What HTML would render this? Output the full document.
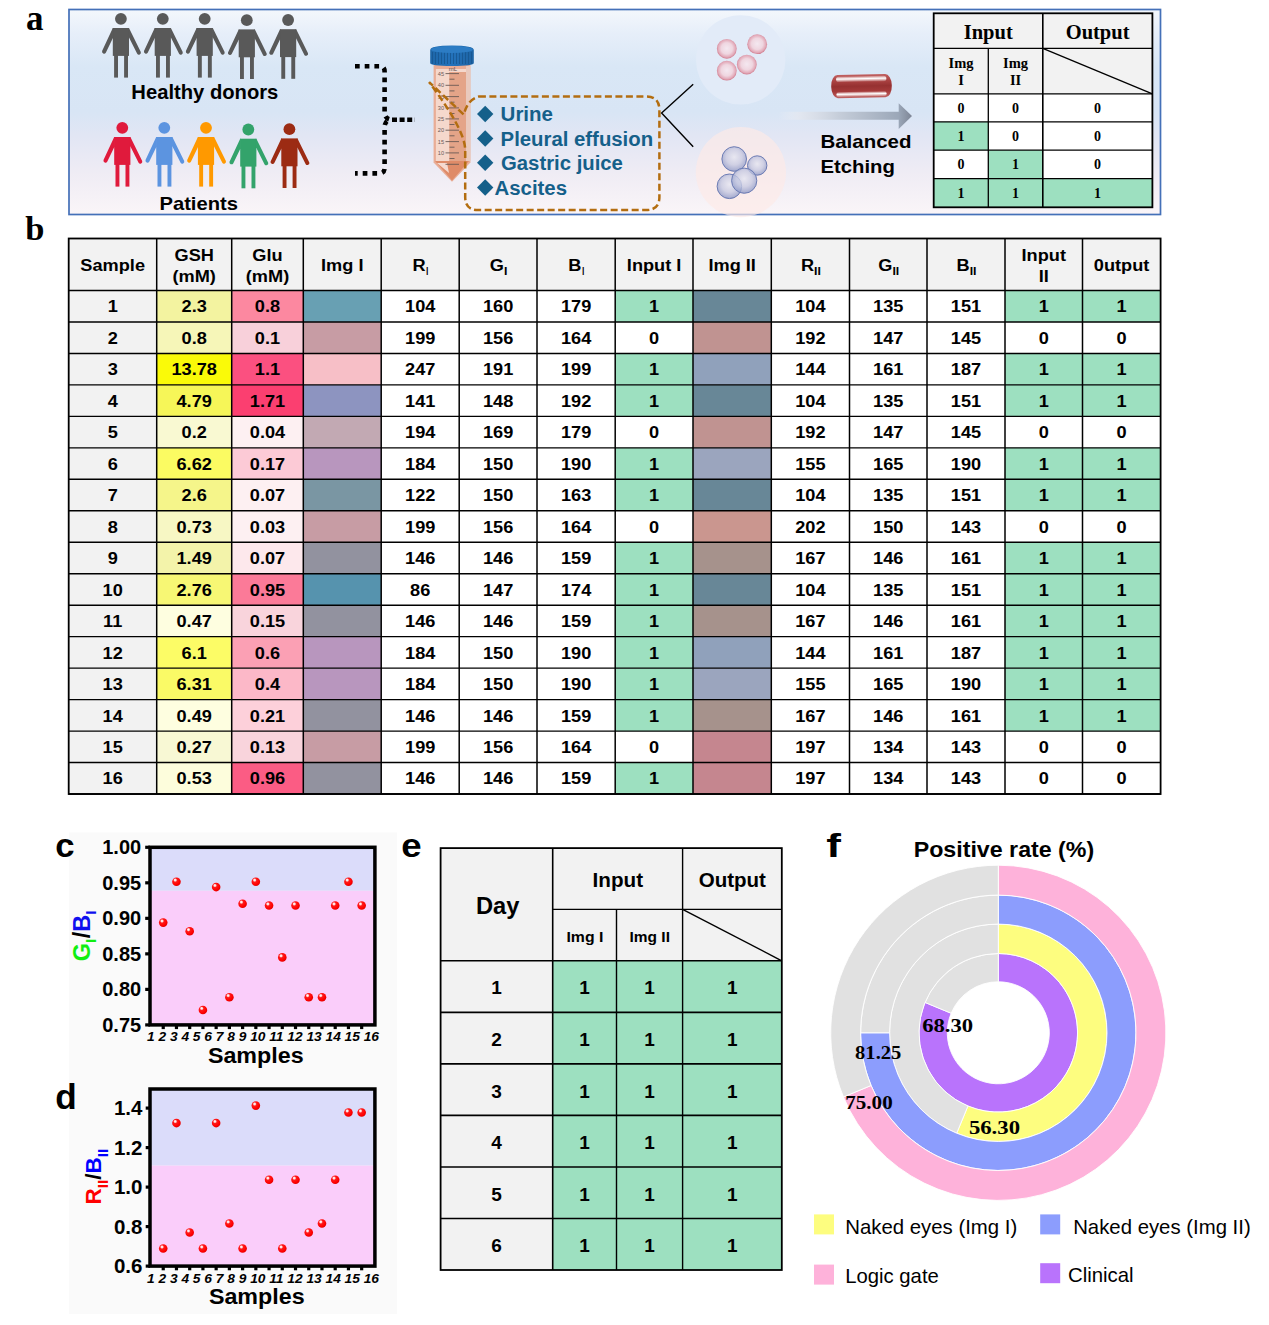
<!DOCTYPE html><html><head><meta charset="utf-8"><style>html,body{margin:0;padding:0;background:#fff;}svg{display:block;}</style></head><body>
<svg width="1269" height="1325" viewBox="0 0 1269 1325">
<rect width="1269" height="1325" fill="#fff"/>
<text x="26.00" y="29.50" font-size="35" text-anchor="start" font-weight="bold" font-family='"Liberation Serif", serif' fill="#000" >a</text>
<text x="25.20" y="240.00" font-size="34.5" text-anchor="start" font-weight="bold" font-family='"Liberation Serif", serif' fill="#000" >b</text>
<defs>
<linearGradient id="bgA" x1="0" y1="0" x2="0" y2="1">
<stop offset="0" stop-color="#f3f7fc"/>
<stop offset="0.12" stop-color="#e6eef9"/>
<stop offset="0.28" stop-color="#d9e7f6"/>
<stop offset="0.50" stop-color="#d8e5f5"/>
<stop offset="0.62" stop-color="#e2e6f4"/>
<stop offset="0.80" stop-color="#efecf4"/>
<stop offset="1" stop-color="#faf5f8"/>
</linearGradient>
<linearGradient id="arrowG" x1="778" y1="0" x2="912" y2="0" gradientUnits="userSpaceOnUse">
<stop offset="0" stop-color="#eef0f6" stop-opacity="0"/>
<stop offset="0.15" stop-color="#e6e8ef" stop-opacity="0.7"/>
<stop offset="0.45" stop-color="#c6ceda"/>
<stop offset="0.9" stop-color="#9ba7b8"/>
<stop offset="1" stop-color="#7d8595"/>
</linearGradient>
<linearGradient id="rodG" x1="0" y1="0" x2="0" y2="1">
<stop offset="0" stop-color="#c06060"/>
<stop offset="0.3" stop-color="#a84040"/>
<stop offset="0.5" stop-color="#963131"/>
<stop offset="0.72" stop-color="#a43a3a"/>
<stop offset="1" stop-color="#c06262"/>
</linearGradient>
<linearGradient id="hlG" x1="0" y1="0" x2="0" y2="1">
<stop offset="0" stop-color="#fff" stop-opacity="0.25"/>
<stop offset="0.45" stop-color="#fff" stop-opacity="1"/>
<stop offset="1" stop-color="#fff" stop-opacity="0.15"/>
</linearGradient>
<radialGradient id="pinkP" cx="0.5" cy="0.48" r="0.52">
<stop offset="0" stop-color="#f4e8f0"/>
<stop offset="0.55" stop-color="#efd6e0"/>
<stop offset="0.85" stop-color="#e2a9b8"/>
<stop offset="1" stop-color="#cf7a8c"/>
</radialGradient>
<radialGradient id="blueP" cx="0.5" cy="0.42" r="0.58">
<stop offset="0" stop-color="#e4e6f2"/>
<stop offset="0.55" stop-color="#c5c9e2"/>
<stop offset="0.9" stop-color="#98a2cc"/>
<stop offset="1" stop-color="#7c88bc"/>
</radialGradient>
<linearGradient id="capG" x1="0" y1="0" x2="1" y2="0">
<stop offset="0" stop-color="#1d66a8"/>
<stop offset="0.5" stop-color="#2372bb"/>
<stop offset="1" stop-color="#1d63a3"/>
</linearGradient>
</defs>
<rect x="69" y="9.5" width="1091.5" height="205" fill="url(#bgA)" stroke="#4470b8" stroke-width="1.7"/>
<g fill="#595959" transform="translate(120.90,18.80)"><circle cx="0" cy="0" r="5.9"/><rect x="-8.1" y="9.2" width="16.2" height="27.9"/><rect x="-6.8" y="36" width="3.9" height="22.8"/><rect x="3.2" y="36" width="3.9" height="22.8"/><path d="M-7.4,9.2 L-8.1,9.2 L-18.8,32.3 A2.05,2.05 0 0 0 -15.1,33.9 L-8.1,19.5 L-7.4,19.5 Z"/><path d="M7.4,9.2 L8.1,9.2 L19.9,33.2 A2.05,2.05 0 0 1 16.3,35.0 L8.1,18.6 L7.4,18.6 Z"/></g>
<g fill="#595959" transform="translate(162.80,18.80)"><circle cx="0" cy="0" r="5.9"/><rect x="-8.1" y="9.2" width="16.2" height="27.9"/><rect x="-6.8" y="36" width="3.9" height="22.8"/><rect x="3.2" y="36" width="3.9" height="22.8"/><path d="M-7.4,9.2 L-8.1,9.2 L-18.8,32.3 A2.05,2.05 0 0 0 -15.1,33.9 L-8.1,19.5 L-7.4,19.5 Z"/><path d="M7.4,9.2 L8.1,9.2 L19.9,33.2 A2.05,2.05 0 0 1 16.3,35.0 L8.1,18.6 L7.4,18.6 Z"/></g>
<g fill="#595959" transform="translate(204.70,18.80)"><circle cx="0" cy="0" r="5.9"/><rect x="-8.1" y="9.2" width="16.2" height="27.9"/><rect x="-6.8" y="36" width="3.9" height="22.8"/><rect x="3.2" y="36" width="3.9" height="22.8"/><path d="M-7.4,9.2 L-8.1,9.2 L-18.8,32.3 A2.05,2.05 0 0 0 -15.1,33.9 L-8.1,19.5 L-7.4,19.5 Z"/><path d="M7.4,9.2 L8.1,9.2 L19.9,33.2 A2.05,2.05 0 0 1 16.3,35.0 L8.1,18.6 L7.4,18.6 Z"/></g>
<g fill="#595959" transform="translate(246.80,20.20)"><circle cx="0" cy="0" r="5.9"/><rect x="-8.1" y="9.2" width="16.2" height="27.9"/><rect x="-6.8" y="36" width="3.9" height="22.8"/><rect x="3.2" y="36" width="3.9" height="22.8"/><path d="M-7.4,9.2 L-8.1,9.2 L-18.8,32.3 A2.05,2.05 0 0 0 -15.1,33.9 L-8.1,19.5 L-7.4,19.5 Z"/><path d="M7.4,9.2 L8.1,9.2 L19.9,33.2 A2.05,2.05 0 0 1 16.3,35.0 L8.1,18.6 L7.4,18.6 Z"/></g>
<g fill="#595959" transform="translate(288.10,20.00)"><circle cx="0" cy="0" r="5.9"/><rect x="-8.1" y="9.2" width="16.2" height="27.9"/><rect x="-6.8" y="36" width="3.9" height="22.8"/><rect x="3.2" y="36" width="3.9" height="22.8"/><path d="M-7.4,9.2 L-8.1,9.2 L-18.8,32.3 A2.05,2.05 0 0 0 -15.1,33.9 L-8.1,19.5 L-7.4,19.5 Z"/><path d="M7.4,9.2 L8.1,9.2 L19.9,33.2 A2.05,2.05 0 0 1 16.3,35.0 L8.1,18.6 L7.4,18.6 Z"/></g>
<g fill="#e01a3c" transform="translate(122.30,127.80)"><circle cx="0" cy="0" r="5.9"/><rect x="-8.1" y="9.2" width="16.2" height="27.9"/><rect x="-6.8" y="36" width="3.9" height="22.8"/><rect x="3.2" y="36" width="3.9" height="22.8"/><path d="M-7.4,9.2 L-8.1,9.2 L-18.8,32.3 A2.05,2.05 0 0 0 -15.1,33.9 L-8.1,19.5 L-7.4,19.5 Z"/><path d="M7.4,9.2 L8.1,9.2 L19.9,33.2 A2.05,2.05 0 0 1 16.3,35.0 L8.1,18.6 L7.4,18.6 Z"/></g>
<g fill="#5c94e0" transform="translate(164.30,127.80)"><circle cx="0" cy="0" r="5.9"/><rect x="-8.1" y="9.2" width="16.2" height="27.9"/><rect x="-6.8" y="36" width="3.9" height="22.8"/><rect x="3.2" y="36" width="3.9" height="22.8"/><path d="M-7.4,9.2 L-8.1,9.2 L-18.8,32.3 A2.05,2.05 0 0 0 -15.1,33.9 L-8.1,19.5 L-7.4,19.5 Z"/><path d="M7.4,9.2 L8.1,9.2 L19.9,33.2 A2.05,2.05 0 0 1 16.3,35.0 L8.1,18.6 L7.4,18.6 Z"/></g>
<g fill="#ff9900" transform="translate(206.00,127.80)"><circle cx="0" cy="0" r="5.9"/><rect x="-8.1" y="9.2" width="16.2" height="27.9"/><rect x="-6.8" y="36" width="3.9" height="22.8"/><rect x="3.2" y="36" width="3.9" height="22.8"/><path d="M-7.4,9.2 L-8.1,9.2 L-18.8,32.3 A2.05,2.05 0 0 0 -15.1,33.9 L-8.1,19.5 L-7.4,19.5 Z"/><path d="M7.4,9.2 L8.1,9.2 L19.9,33.2 A2.05,2.05 0 0 1 16.3,35.0 L8.1,18.6 L7.4,18.6 Z"/></g>
<g fill="#33a36b" transform="translate(248.30,129.50)"><circle cx="0" cy="0" r="5.9"/><rect x="-8.1" y="9.2" width="16.2" height="27.9"/><rect x="-6.8" y="36" width="3.9" height="22.8"/><rect x="3.2" y="36" width="3.9" height="22.8"/><path d="M-7.4,9.2 L-8.1,9.2 L-18.8,32.3 A2.05,2.05 0 0 0 -15.1,33.9 L-8.1,19.5 L-7.4,19.5 Z"/><path d="M7.4,9.2 L8.1,9.2 L19.9,33.2 A2.05,2.05 0 0 1 16.3,35.0 L8.1,18.6 L7.4,18.6 Z"/></g>
<g fill="#9c2b13" transform="translate(289.40,129.20)"><circle cx="0" cy="0" r="5.9"/><rect x="-8.1" y="9.2" width="16.2" height="27.9"/><rect x="-6.8" y="36" width="3.9" height="22.8"/><rect x="3.2" y="36" width="3.9" height="22.8"/><path d="M-7.4,9.2 L-8.1,9.2 L-18.8,32.3 A2.05,2.05 0 0 0 -15.1,33.9 L-8.1,19.5 L-7.4,19.5 Z"/><path d="M7.4,9.2 L8.1,9.2 L19.9,33.2 A2.05,2.05 0 0 1 16.3,35.0 L8.1,18.6 L7.4,18.6 Z"/></g>
<text x="131.34" y="98.90" font-size="19.3" text-anchor="start" font-weight="bold" font-family='"Liberation Sans", sans-serif' fill="#000"  textLength="147.03" lengthAdjust="spacingAndGlyphs">Healthy donors</text>
<text x="159.47" y="210.30" font-size="18.5" text-anchor="start" font-weight="bold" font-family='"Liberation Sans", sans-serif' fill="#000"  textLength="78.45" lengthAdjust="spacingAndGlyphs">Patients</text>
<path d="M355,66.2 H379.5 Q384.6,66.2 384.6,71.5 V112 Q384.6,118.5 390.5,119.6" fill="none" stroke="#000" stroke-width="4.6" stroke-dasharray="4.7 5"/>
<path d="M392,119.8 H415" fill="none" stroke="#000" stroke-width="4.6" stroke-dasharray="5 2.6"/>
<path d="M355,173.4 H379 Q384.6,173.4 384.6,168 V127 Q384.6,121 390.5,119.6" fill="none" stroke="#000" stroke-width="4.6" stroke-dasharray="4.7 5" stroke-dashoffset="2"/>
<path d="M433.6,65 H470.4 V162.5 L452,181.8 L433.6,162.5 Z" fill="#e9ad96"/>
<path d="M466,66 H470.4 V161 H466 Z" fill="#e9c9bd"/>
<path d="M435.9,69 H466 V161 H435.9 Z" fill="#f5d8cc"/>
<path d="M449.2,72 H466 V161 H449.2 Z" fill="#e4a488"/>
<path d="M435,161 H469 L452,180.5 Z" fill="#df8b68"/>
<path d="M437,163 H447 L449,173 Z" fill="#f6dad0"/>
<line x1="445.5" y1="73.6" x2="459" y2="73.6" stroke="#6a5a55" stroke-width="0.9"/>
<line x1="449.5" y1="79.2" x2="454.5" y2="79.2" stroke="#6a5a55" stroke-width="0.9"/>
<line x1="445.5" y1="85.3" x2="459" y2="85.3" stroke="#6a5a55" stroke-width="0.9"/>
<line x1="449.5" y1="90.9" x2="454.5" y2="90.9" stroke="#6a5a55" stroke-width="0.9"/>
<line x1="445.5" y1="96.6" x2="459" y2="96.6" stroke="#6a5a55" stroke-width="0.9"/>
<line x1="449.5" y1="102.2" x2="454.5" y2="102.2" stroke="#6a5a55" stroke-width="0.9"/>
<line x1="445.5" y1="107.9" x2="459" y2="107.9" stroke="#6a5a55" stroke-width="0.9"/>
<line x1="449.5" y1="113.5" x2="454.5" y2="113.5" stroke="#6a5a55" stroke-width="0.9"/>
<line x1="445.5" y1="118.9" x2="459" y2="118.9" stroke="#6a5a55" stroke-width="0.9"/>
<line x1="449.5" y1="124.5" x2="454.5" y2="124.5" stroke="#6a5a55" stroke-width="0.9"/>
<line x1="445.5" y1="130.2" x2="459" y2="130.2" stroke="#6a5a55" stroke-width="0.9"/>
<line x1="449.5" y1="135.8" x2="454.5" y2="135.8" stroke="#6a5a55" stroke-width="0.9"/>
<line x1="445.5" y1="141.6" x2="459" y2="141.6" stroke="#6a5a55" stroke-width="0.9"/>
<line x1="449.5" y1="147.2" x2="454.5" y2="147.2" stroke="#6a5a55" stroke-width="0.9"/>
<line x1="445.5" y1="152.9" x2="459" y2="152.9" stroke="#6a5a55" stroke-width="0.9"/>
<line x1="449.5" y1="158.5" x2="454.5" y2="158.5" stroke="#6a5a55" stroke-width="0.9"/>
<line x1="445.5" y1="164.3" x2="459" y2="164.3" stroke="#6a5a55" stroke-width="0.9"/>
<text x="444" y="75.6" font-size="5.6" text-anchor="end" font-family='"Liberation Sans", sans-serif' fill="#6a5a58">45</text>
<text x="444" y="87.3" font-size="5.6" text-anchor="end" font-family='"Liberation Sans", sans-serif' fill="#6a5a58">40</text>
<text x="444" y="98.6" font-size="5.6" text-anchor="end" font-family='"Liberation Sans", sans-serif' fill="#6a5a58">35</text>
<text x="444" y="109.9" font-size="5.6" text-anchor="end" font-family='"Liberation Sans", sans-serif' fill="#6a5a58">30</text>
<text x="444" y="120.9" font-size="5.6" text-anchor="end" font-family='"Liberation Sans", sans-serif' fill="#6a5a58">25</text>
<text x="444" y="132.2" font-size="5.6" text-anchor="end" font-family='"Liberation Sans", sans-serif' fill="#6a5a58">20</text>
<text x="444" y="143.6" font-size="5.6" text-anchor="end" font-family='"Liberation Sans", sans-serif' fill="#6a5a58">15</text>
<text x="444" y="154.9" font-size="5.6" text-anchor="end" font-family='"Liberation Sans", sans-serif' fill="#6a5a58">10</text>
<text x="453" y="71" font-size="6" text-anchor="middle" font-family='"Liberation Sans", sans-serif' fill="#5a4a45">mL</text>
<path d="M430.2,50 Q430.2,45.5 452,45.5 Q473.8,45.5 473.8,50 V63 Q473.8,66 452,66 Q430.2,66 430.2,63 Z" fill="url(#capG)"/>
<line x1="432.5" y1="52" x2="432.5" y2="64" stroke="#17558f" stroke-width="0.8"/>
<line x1="435.5" y1="52" x2="435.5" y2="64" stroke="#17558f" stroke-width="0.8"/>
<line x1="438.5" y1="52" x2="438.5" y2="64" stroke="#17558f" stroke-width="0.8"/>
<line x1="441.5" y1="52" x2="441.5" y2="64" stroke="#17558f" stroke-width="0.8"/>
<line x1="444.5" y1="52" x2="444.5" y2="64" stroke="#17558f" stroke-width="0.8"/>
<line x1="447.5" y1="52" x2="447.5" y2="64" stroke="#17558f" stroke-width="0.8"/>
<line x1="450.5" y1="52" x2="450.5" y2="64" stroke="#17558f" stroke-width="0.8"/>
<line x1="453.5" y1="52" x2="453.5" y2="64" stroke="#17558f" stroke-width="0.8"/>
<line x1="456.5" y1="52" x2="456.5" y2="64" stroke="#17558f" stroke-width="0.8"/>
<line x1="459.5" y1="52" x2="459.5" y2="64" stroke="#17558f" stroke-width="0.8"/>
<line x1="462.5" y1="52" x2="462.5" y2="64" stroke="#17558f" stroke-width="0.8"/>
<line x1="465.5" y1="52" x2="465.5" y2="64" stroke="#17558f" stroke-width="0.8"/>
<line x1="468.5" y1="52" x2="468.5" y2="64" stroke="#17558f" stroke-width="0.8"/>
<line x1="471.5" y1="52" x2="471.5" y2="64" stroke="#17558f" stroke-width="0.8"/>
<ellipse cx="452" cy="49.5" rx="21" ry="3.6" fill="#2c7cc4"/>
<path d="M478.9,96.5 H646 Q659.4,96.5 659.4,110 V197 Q659.4,210.1 646,210.1 H478 Q465.2,210.1 465.2,197 V150 C465.2,135 450,110 429.1,82.1 L463.9,114.7 Q467,100 478.9,96.5 Z" fill="none" stroke="#b36d10" stroke-width="2.5" stroke-dasharray="7 3.5"/>
<path d="M477,114.0 L485.2,105.8 L493.4,114.0 L485.2,122.2 Z" fill="#15608a"/>
<text x="500.59" y="121.20" font-size="20.3" text-anchor="start" font-weight="bold" font-family='"Liberation Sans", sans-serif' fill="#15608a"  textLength="52.43" lengthAdjust="spacingAndGlyphs">Urine</text>
<path d="M477,138.5 L485.2,130.3 L493.4,138.5 L485.2,146.7 Z" fill="#15608a"/>
<text x="500.59" y="145.70" font-size="20.3" text-anchor="start" font-weight="bold" font-family='"Liberation Sans", sans-serif' fill="#15608a"  textLength="152.53" lengthAdjust="spacingAndGlyphs">Pleural effusion</text>
<path d="M477,162.8 L485.2,154.6 L493.4,162.8 L485.2,171.0 Z" fill="#15608a"/>
<text x="500.99" y="170.00" font-size="20.3" text-anchor="start" font-weight="bold" font-family='"Liberation Sans", sans-serif' fill="#15608a"  textLength="121.93" lengthAdjust="spacingAndGlyphs">Gastric juice</text>
<path d="M477,187.5 L485.2,179.3 L493.4,187.5 L485.2,195.7 Z" fill="#15608a"/>
<text x="494.49" y="194.70" font-size="20.3" text-anchor="start" font-weight="bold" font-family='"Liberation Sans", sans-serif' fill="#15608a"  textLength="72.53" lengthAdjust="spacingAndGlyphs">Ascites</text>
<path d="M693.2,84.3 L661.6,113 L693.2,146.8" fill="none" stroke="#000" stroke-width="1.4"/>
<circle cx="740.7" cy="59.9" r="44.7" fill="#e2ebf8"/>
<circle cx="740.9" cy="172.2" r="45.1" fill="#feeae6" opacity="0.66"/>
<circle cx="726.8" cy="48.8" r="9.9" fill="url(#pinkP)"/>
<circle cx="757.2" cy="44.2" r="9.9" fill="url(#pinkP)"/>
<circle cx="726.8" cy="70.7" r="9.9" fill="url(#pinkP)"/>
<circle cx="746.8" cy="64.6" r="9.9" fill="url(#pinkP)"/>
<circle cx="734.2" cy="159" r="12.3" fill="url(#blueP)" fill-opacity="0.78" stroke="#6c7cb4" stroke-width="1"/>
<circle cx="757.2" cy="165.5" r="9.7" fill="url(#blueP)" fill-opacity="0.78" stroke="#6c7cb4" stroke-width="1"/>
<circle cx="729.4" cy="186.3" r="12.3" fill="url(#blueP)" fill-opacity="0.78" stroke="#6c7cb4" stroke-width="1"/>
<circle cx="744.2" cy="180.7" r="12.6" fill="url(#blueP)" fill-opacity="0.78" stroke="#6c7cb4" stroke-width="1"/>
<g transform="rotate(-1.2 861.5 86)"><rect x="831.2" y="74.5" width="60.6" height="23.2" rx="6.5" ry="11" fill="url(#rodG)"/><rect x="836.2" y="76.2" width="50.3" height="5.4" rx="2.6" fill="url(#hlG)"/><rect x="836.2" y="91.8" width="50.3" height="4.8" rx="2.3" fill="url(#hlG)"/></g>
<path d="M778,111.8 H898.7 V103.2 L912,116 L898.7,129 V119.8 H778 Z" fill="url(#arrowG)"/>
<text x="820.45" y="147.80" font-size="19" text-anchor="start" font-weight="bold" font-family='"Liberation Sans", sans-serif' fill="#000"  textLength="91.00" lengthAdjust="spacingAndGlyphs">Balanced</text>
<text x="820.45" y="173.00" font-size="19" text-anchor="start" font-weight="bold" font-family='"Liberation Sans", sans-serif' fill="#000"  textLength="74.50" lengthAdjust="spacingAndGlyphs">Etching</text>
<rect x="933.7" y="13.3" width="218.7" height="80.5" fill="#f2f2f2"/>
<rect x="933.7" y="93.8" width="218.7" height="113.5" fill="#fff"/>
<rect x="933.7" y="121.8" width="54.6" height="28.4" fill="#9de0c0"/>
<rect x="988.3" y="150.2" width="54.5" height="28.5" fill="#9de0c0"/>
<rect x="933.7" y="178.7" width="218.7" height="28.6" fill="#9de0c0"/>
<line x1="933.7" y1="48.4" x2="1152.4" y2="48.4" stroke="#000" stroke-width="1.3"/>
<line x1="933.7" y1="93.8" x2="1152.4" y2="93.8" stroke="#000" stroke-width="1.3"/>
<line x1="933.7" y1="121.8" x2="1152.4" y2="121.8" stroke="#000" stroke-width="1.3"/>
<line x1="933.7" y1="150.2" x2="1152.4" y2="150.2" stroke="#000" stroke-width="1.3"/>
<line x1="933.7" y1="178.7" x2="1152.4" y2="178.7" stroke="#000" stroke-width="1.3"/>
<line x1="988.3" y1="48.4" x2="988.3" y2="207.3" stroke="#000" stroke-width="1.3"/>
<line x1="1042.8" y1="13.3" x2="1042.8" y2="207.3" stroke="#000" stroke-width="1.6"/>
<line x1="1042.8" y1="48.4" x2="1152.4" y2="93.8" stroke="#000" stroke-width="1.3"/>
<rect x="933.7" y="13.3" width="218.7" height="194.0" fill="none" stroke="#000" stroke-width="1.8"/>
<text x="988.25" y="38.60" font-size="20.5" text-anchor="middle" font-weight="bold" font-family='"Liberation Serif", serif' fill="#000" >Input</text>
<text x="1097.60" y="38.60" font-size="20.5" text-anchor="middle" font-weight="bold" font-family='"Liberation Serif", serif' fill="#000" >Output</text>
<text x="961.00" y="67.90" font-size="14.5" text-anchor="middle" font-weight="bold" font-family='"Liberation Serif", serif' fill="#000" >Img</text>
<text x="961.00" y="84.80" font-size="14.5" text-anchor="middle" font-weight="bold" font-family='"Liberation Serif", serif' fill="#000" >I</text>
<text x="1015.55" y="67.90" font-size="14.5" text-anchor="middle" font-weight="bold" font-family='"Liberation Serif", serif' fill="#000" >Img</text>
<text x="1015.55" y="84.80" font-size="14.5" text-anchor="middle" font-weight="bold" font-family='"Liberation Serif", serif' fill="#000" >II</text>
<text x="961.00" y="112.60" font-size="14" text-anchor="middle" font-weight="bold" font-family='"Liberation Serif", serif' fill="#000" >0</text>
<text x="1015.55" y="112.60" font-size="14" text-anchor="middle" font-weight="bold" font-family='"Liberation Serif", serif' fill="#000" >0</text>
<text x="1097.60" y="112.60" font-size="14" text-anchor="middle" font-weight="bold" font-family='"Liberation Serif", serif' fill="#000" >0</text>
<text x="961.00" y="140.80" font-size="14" text-anchor="middle" font-weight="bold" font-family='"Liberation Serif", serif' fill="#000" >1</text>
<text x="1015.55" y="140.80" font-size="14" text-anchor="middle" font-weight="bold" font-family='"Liberation Serif", serif' fill="#000" >0</text>
<text x="1097.60" y="140.80" font-size="14" text-anchor="middle" font-weight="bold" font-family='"Liberation Serif", serif' fill="#000" >0</text>
<text x="961.00" y="169.25" font-size="14" text-anchor="middle" font-weight="bold" font-family='"Liberation Serif", serif' fill="#000" >0</text>
<text x="1015.55" y="169.25" font-size="14" text-anchor="middle" font-weight="bold" font-family='"Liberation Serif", serif' fill="#000" >1</text>
<text x="1097.60" y="169.25" font-size="14" text-anchor="middle" font-weight="bold" font-family='"Liberation Serif", serif' fill="#000" >0</text>
<text x="961.00" y="197.80" font-size="14" text-anchor="middle" font-weight="bold" font-family='"Liberation Serif", serif' fill="#000" >1</text>
<text x="1015.55" y="197.80" font-size="14" text-anchor="middle" font-weight="bold" font-family='"Liberation Serif", serif' fill="#000" >1</text>
<text x="1097.60" y="197.80" font-size="14" text-anchor="middle" font-weight="bold" font-family='"Liberation Serif", serif' fill="#000" >1</text>
<rect x="68.7" y="238.5" width="1091.8999999999999" height="52.0" fill="#f2f2f2"/>
<rect x="68.7" y="290.5" width="87.99999999999999" height="503.52" fill="#f2f2f2"/>
<rect x="156.7" y="290.50" width="75.00" height="31.47" fill="#f3f3a0"/>
<rect x="231.7" y="290.50" width="71.60" height="31.47" fill="#fc88a0"/>
<rect x="303.3" y="290.50" width="77.90" height="31.47" fill="rgb(104,160,179)"/>
<rect x="615.2" y="290.50" width="77.80" height="31.47" fill="#9de0c0"/>
<rect x="693" y="290.50" width="78.30" height="31.47" fill="rgb(104,135,151)"/>
<rect x="1005" y="290.50" width="77.50" height="31.47" fill="#9de0c0"/>
<rect x="1082.5" y="290.50" width="78.10" height="31.47" fill="#9de0c0"/>
<text transform="translate(112.70,312.44) scale(1.07,1)" font-size="17" text-anchor="middle" font-weight="bold" font-family='"Liberation Sans", sans-serif' fill="#000" >1</text>
<text transform="translate(194.20,312.44) scale(1.07,1)" font-size="17" text-anchor="middle" font-weight="bold" font-family='"Liberation Sans", sans-serif' fill="#000" >2.3</text>
<text transform="translate(267.50,312.44) scale(1.07,1)" font-size="17" text-anchor="middle" font-weight="bold" font-family='"Liberation Sans", sans-serif' fill="#000" >0.8</text>
<text transform="translate(420.20,312.44) scale(1.07,1)" font-size="17" text-anchor="middle" font-weight="bold" font-family='"Liberation Sans", sans-serif' fill="#000" >104</text>
<text transform="translate(498.10,312.44) scale(1.07,1)" font-size="17" text-anchor="middle" font-weight="bold" font-family='"Liberation Sans", sans-serif' fill="#000" >160</text>
<text transform="translate(576.10,312.44) scale(1.07,1)" font-size="17" text-anchor="middle" font-weight="bold" font-family='"Liberation Sans", sans-serif' fill="#000" >179</text>
<text transform="translate(654.10,312.44) scale(1.07,1)" font-size="17" text-anchor="middle" font-weight="bold" font-family='"Liberation Sans", sans-serif' fill="#000" >1</text>
<text transform="translate(810.40,312.44) scale(1.07,1)" font-size="17" text-anchor="middle" font-weight="bold" font-family='"Liberation Sans", sans-serif' fill="#000" >104</text>
<text transform="translate(888.25,312.44) scale(1.07,1)" font-size="17" text-anchor="middle" font-weight="bold" font-family='"Liberation Sans", sans-serif' fill="#000" >135</text>
<text transform="translate(966.00,312.44) scale(1.07,1)" font-size="17" text-anchor="middle" font-weight="bold" font-family='"Liberation Sans", sans-serif' fill="#000" >151</text>
<text transform="translate(1043.75,312.44) scale(1.07,1)" font-size="17" text-anchor="middle" font-weight="bold" font-family='"Liberation Sans", sans-serif' fill="#000" >1</text>
<text transform="translate(1121.55,312.44) scale(1.07,1)" font-size="17" text-anchor="middle" font-weight="bold" font-family='"Liberation Sans", sans-serif' fill="#000" >1</text>
<rect x="156.7" y="321.97" width="75.00" height="31.47" fill="#f6f6b8"/>
<rect x="231.7" y="321.97" width="71.60" height="31.47" fill="#f8d0da"/>
<rect x="303.3" y="321.97" width="77.90" height="31.47" fill="rgb(199,156,164)"/>
<rect x="693" y="321.97" width="78.30" height="31.47" fill="rgb(192,147,145)"/>
<text transform="translate(112.70,343.91) scale(1.07,1)" font-size="17" text-anchor="middle" font-weight="bold" font-family='"Liberation Sans", sans-serif' fill="#000" >2</text>
<text transform="translate(194.20,343.91) scale(1.07,1)" font-size="17" text-anchor="middle" font-weight="bold" font-family='"Liberation Sans", sans-serif' fill="#000" >0.8</text>
<text transform="translate(267.50,343.91) scale(1.07,1)" font-size="17" text-anchor="middle" font-weight="bold" font-family='"Liberation Sans", sans-serif' fill="#000" >0.1</text>
<text transform="translate(420.20,343.91) scale(1.07,1)" font-size="17" text-anchor="middle" font-weight="bold" font-family='"Liberation Sans", sans-serif' fill="#000" >199</text>
<text transform="translate(498.10,343.91) scale(1.07,1)" font-size="17" text-anchor="middle" font-weight="bold" font-family='"Liberation Sans", sans-serif' fill="#000" >156</text>
<text transform="translate(576.10,343.91) scale(1.07,1)" font-size="17" text-anchor="middle" font-weight="bold" font-family='"Liberation Sans", sans-serif' fill="#000" >164</text>
<text transform="translate(654.10,343.91) scale(1.07,1)" font-size="17" text-anchor="middle" font-weight="bold" font-family='"Liberation Sans", sans-serif' fill="#000" >0</text>
<text transform="translate(810.40,343.91) scale(1.07,1)" font-size="17" text-anchor="middle" font-weight="bold" font-family='"Liberation Sans", sans-serif' fill="#000" >192</text>
<text transform="translate(888.25,343.91) scale(1.07,1)" font-size="17" text-anchor="middle" font-weight="bold" font-family='"Liberation Sans", sans-serif' fill="#000" >147</text>
<text transform="translate(966.00,343.91) scale(1.07,1)" font-size="17" text-anchor="middle" font-weight="bold" font-family='"Liberation Sans", sans-serif' fill="#000" >145</text>
<text transform="translate(1043.75,343.91) scale(1.07,1)" font-size="17" text-anchor="middle" font-weight="bold" font-family='"Liberation Sans", sans-serif' fill="#000" >0</text>
<text transform="translate(1121.55,343.91) scale(1.07,1)" font-size="17" text-anchor="middle" font-weight="bold" font-family='"Liberation Sans", sans-serif' fill="#000" >0</text>
<rect x="156.7" y="353.44" width="75.00" height="31.47" fill="#fafa08"/>
<rect x="231.7" y="353.44" width="71.60" height="31.47" fill="#fb5080"/>
<rect x="303.3" y="353.44" width="77.90" height="31.47" fill="rgb(247,191,199)"/>
<rect x="615.2" y="353.44" width="77.80" height="31.47" fill="#9de0c0"/>
<rect x="693" y="353.44" width="78.30" height="31.47" fill="rgb(144,161,187)"/>
<rect x="1005" y="353.44" width="77.50" height="31.47" fill="#9de0c0"/>
<rect x="1082.5" y="353.44" width="78.10" height="31.47" fill="#9de0c0"/>
<text transform="translate(112.70,375.38) scale(1.07,1)" font-size="17" text-anchor="middle" font-weight="bold" font-family='"Liberation Sans", sans-serif' fill="#000" >3</text>
<text transform="translate(194.20,375.38) scale(1.07,1)" font-size="17" text-anchor="middle" font-weight="bold" font-family='"Liberation Sans", sans-serif' fill="#000" >13.78</text>
<text transform="translate(267.50,375.38) scale(1.07,1)" font-size="17" text-anchor="middle" font-weight="bold" font-family='"Liberation Sans", sans-serif' fill="#000" >1.1</text>
<text transform="translate(420.20,375.38) scale(1.07,1)" font-size="17" text-anchor="middle" font-weight="bold" font-family='"Liberation Sans", sans-serif' fill="#000" >247</text>
<text transform="translate(498.10,375.38) scale(1.07,1)" font-size="17" text-anchor="middle" font-weight="bold" font-family='"Liberation Sans", sans-serif' fill="#000" >191</text>
<text transform="translate(576.10,375.38) scale(1.07,1)" font-size="17" text-anchor="middle" font-weight="bold" font-family='"Liberation Sans", sans-serif' fill="#000" >199</text>
<text transform="translate(654.10,375.38) scale(1.07,1)" font-size="17" text-anchor="middle" font-weight="bold" font-family='"Liberation Sans", sans-serif' fill="#000" >1</text>
<text transform="translate(810.40,375.38) scale(1.07,1)" font-size="17" text-anchor="middle" font-weight="bold" font-family='"Liberation Sans", sans-serif' fill="#000" >144</text>
<text transform="translate(888.25,375.38) scale(1.07,1)" font-size="17" text-anchor="middle" font-weight="bold" font-family='"Liberation Sans", sans-serif' fill="#000" >161</text>
<text transform="translate(966.00,375.38) scale(1.07,1)" font-size="17" text-anchor="middle" font-weight="bold" font-family='"Liberation Sans", sans-serif' fill="#000" >187</text>
<text transform="translate(1043.75,375.38) scale(1.07,1)" font-size="17" text-anchor="middle" font-weight="bold" font-family='"Liberation Sans", sans-serif' fill="#000" >1</text>
<text transform="translate(1121.55,375.38) scale(1.07,1)" font-size="17" text-anchor="middle" font-weight="bold" font-family='"Liberation Sans", sans-serif' fill="#000" >1</text>
<rect x="156.7" y="384.91" width="75.00" height="31.47" fill="#f6f658"/>
<rect x="231.7" y="384.91" width="71.60" height="31.47" fill="#fb3f70"/>
<rect x="303.3" y="384.91" width="77.90" height="31.47" fill="rgb(141,148,192)"/>
<rect x="615.2" y="384.91" width="77.80" height="31.47" fill="#9de0c0"/>
<rect x="693" y="384.91" width="78.30" height="31.47" fill="rgb(104,135,151)"/>
<rect x="1005" y="384.91" width="77.50" height="31.47" fill="#9de0c0"/>
<rect x="1082.5" y="384.91" width="78.10" height="31.47" fill="#9de0c0"/>
<text transform="translate(112.70,406.84) scale(1.07,1)" font-size="17" text-anchor="middle" font-weight="bold" font-family='"Liberation Sans", sans-serif' fill="#000" >4</text>
<text transform="translate(194.20,406.84) scale(1.07,1)" font-size="17" text-anchor="middle" font-weight="bold" font-family='"Liberation Sans", sans-serif' fill="#000" >4.79</text>
<text transform="translate(267.50,406.84) scale(1.07,1)" font-size="17" text-anchor="middle" font-weight="bold" font-family='"Liberation Sans", sans-serif' fill="#000" >1.71</text>
<text transform="translate(420.20,406.84) scale(1.07,1)" font-size="17" text-anchor="middle" font-weight="bold" font-family='"Liberation Sans", sans-serif' fill="#000" >141</text>
<text transform="translate(498.10,406.84) scale(1.07,1)" font-size="17" text-anchor="middle" font-weight="bold" font-family='"Liberation Sans", sans-serif' fill="#000" >148</text>
<text transform="translate(576.10,406.84) scale(1.07,1)" font-size="17" text-anchor="middle" font-weight="bold" font-family='"Liberation Sans", sans-serif' fill="#000" >192</text>
<text transform="translate(654.10,406.84) scale(1.07,1)" font-size="17" text-anchor="middle" font-weight="bold" font-family='"Liberation Sans", sans-serif' fill="#000" >1</text>
<text transform="translate(810.40,406.84) scale(1.07,1)" font-size="17" text-anchor="middle" font-weight="bold" font-family='"Liberation Sans", sans-serif' fill="#000" >104</text>
<text transform="translate(888.25,406.84) scale(1.07,1)" font-size="17" text-anchor="middle" font-weight="bold" font-family='"Liberation Sans", sans-serif' fill="#000" >135</text>
<text transform="translate(966.00,406.84) scale(1.07,1)" font-size="17" text-anchor="middle" font-weight="bold" font-family='"Liberation Sans", sans-serif' fill="#000" >151</text>
<text transform="translate(1043.75,406.84) scale(1.07,1)" font-size="17" text-anchor="middle" font-weight="bold" font-family='"Liberation Sans", sans-serif' fill="#000" >1</text>
<text transform="translate(1121.55,406.84) scale(1.07,1)" font-size="17" text-anchor="middle" font-weight="bold" font-family='"Liberation Sans", sans-serif' fill="#000" >1</text>
<rect x="156.7" y="416.38" width="75.00" height="31.47" fill="#f9f9d2"/>
<rect x="231.7" y="416.38" width="71.60" height="31.47" fill="#fdf0f2"/>
<rect x="303.3" y="416.38" width="77.90" height="31.47" fill="rgb(194,169,179)"/>
<rect x="693" y="416.38" width="78.30" height="31.47" fill="rgb(192,147,145)"/>
<text transform="translate(112.70,438.31) scale(1.07,1)" font-size="17" text-anchor="middle" font-weight="bold" font-family='"Liberation Sans", sans-serif' fill="#000" >5</text>
<text transform="translate(194.20,438.31) scale(1.07,1)" font-size="17" text-anchor="middle" font-weight="bold" font-family='"Liberation Sans", sans-serif' fill="#000" >0.2</text>
<text transform="translate(267.50,438.31) scale(1.07,1)" font-size="17" text-anchor="middle" font-weight="bold" font-family='"Liberation Sans", sans-serif' fill="#000" >0.04</text>
<text transform="translate(420.20,438.31) scale(1.07,1)" font-size="17" text-anchor="middle" font-weight="bold" font-family='"Liberation Sans", sans-serif' fill="#000" >194</text>
<text transform="translate(498.10,438.31) scale(1.07,1)" font-size="17" text-anchor="middle" font-weight="bold" font-family='"Liberation Sans", sans-serif' fill="#000" >169</text>
<text transform="translate(576.10,438.31) scale(1.07,1)" font-size="17" text-anchor="middle" font-weight="bold" font-family='"Liberation Sans", sans-serif' fill="#000" >179</text>
<text transform="translate(654.10,438.31) scale(1.07,1)" font-size="17" text-anchor="middle" font-weight="bold" font-family='"Liberation Sans", sans-serif' fill="#000" >0</text>
<text transform="translate(810.40,438.31) scale(1.07,1)" font-size="17" text-anchor="middle" font-weight="bold" font-family='"Liberation Sans", sans-serif' fill="#000" >192</text>
<text transform="translate(888.25,438.31) scale(1.07,1)" font-size="17" text-anchor="middle" font-weight="bold" font-family='"Liberation Sans", sans-serif' fill="#000" >147</text>
<text transform="translate(966.00,438.31) scale(1.07,1)" font-size="17" text-anchor="middle" font-weight="bold" font-family='"Liberation Sans", sans-serif' fill="#000" >145</text>
<text transform="translate(1043.75,438.31) scale(1.07,1)" font-size="17" text-anchor="middle" font-weight="bold" font-family='"Liberation Sans", sans-serif' fill="#000" >0</text>
<text transform="translate(1121.55,438.31) scale(1.07,1)" font-size="17" text-anchor="middle" font-weight="bold" font-family='"Liberation Sans", sans-serif' fill="#000" >0</text>
<rect x="156.7" y="447.85" width="75.00" height="31.47" fill="#fbfb62"/>
<rect x="231.7" y="447.85" width="71.60" height="31.47" fill="#fccad6"/>
<rect x="303.3" y="447.85" width="77.90" height="31.47" fill="rgb(184,150,190)"/>
<rect x="615.2" y="447.85" width="77.80" height="31.47" fill="#9de0c0"/>
<rect x="693" y="447.85" width="78.30" height="31.47" fill="rgb(155,165,190)"/>
<rect x="1005" y="447.85" width="77.50" height="31.47" fill="#9de0c0"/>
<rect x="1082.5" y="447.85" width="78.10" height="31.47" fill="#9de0c0"/>
<text transform="translate(112.70,469.79) scale(1.07,1)" font-size="17" text-anchor="middle" font-weight="bold" font-family='"Liberation Sans", sans-serif' fill="#000" >6</text>
<text transform="translate(194.20,469.79) scale(1.07,1)" font-size="17" text-anchor="middle" font-weight="bold" font-family='"Liberation Sans", sans-serif' fill="#000" >6.62</text>
<text transform="translate(267.50,469.79) scale(1.07,1)" font-size="17" text-anchor="middle" font-weight="bold" font-family='"Liberation Sans", sans-serif' fill="#000" >0.17</text>
<text transform="translate(420.20,469.79) scale(1.07,1)" font-size="17" text-anchor="middle" font-weight="bold" font-family='"Liberation Sans", sans-serif' fill="#000" >184</text>
<text transform="translate(498.10,469.79) scale(1.07,1)" font-size="17" text-anchor="middle" font-weight="bold" font-family='"Liberation Sans", sans-serif' fill="#000" >150</text>
<text transform="translate(576.10,469.79) scale(1.07,1)" font-size="17" text-anchor="middle" font-weight="bold" font-family='"Liberation Sans", sans-serif' fill="#000" >190</text>
<text transform="translate(654.10,469.79) scale(1.07,1)" font-size="17" text-anchor="middle" font-weight="bold" font-family='"Liberation Sans", sans-serif' fill="#000" >1</text>
<text transform="translate(810.40,469.79) scale(1.07,1)" font-size="17" text-anchor="middle" font-weight="bold" font-family='"Liberation Sans", sans-serif' fill="#000" >155</text>
<text transform="translate(888.25,469.79) scale(1.07,1)" font-size="17" text-anchor="middle" font-weight="bold" font-family='"Liberation Sans", sans-serif' fill="#000" >165</text>
<text transform="translate(966.00,469.79) scale(1.07,1)" font-size="17" text-anchor="middle" font-weight="bold" font-family='"Liberation Sans", sans-serif' fill="#000" >190</text>
<text transform="translate(1043.75,469.79) scale(1.07,1)" font-size="17" text-anchor="middle" font-weight="bold" font-family='"Liberation Sans", sans-serif' fill="#000" >1</text>
<text transform="translate(1121.55,469.79) scale(1.07,1)" font-size="17" text-anchor="middle" font-weight="bold" font-family='"Liberation Sans", sans-serif' fill="#000" >1</text>
<rect x="156.7" y="479.32" width="75.00" height="31.47" fill="#f5f58a"/>
<rect x="231.7" y="479.32" width="71.60" height="31.47" fill="#fdf0f2"/>
<rect x="303.3" y="479.32" width="77.90" height="31.47" fill="rgb(122,150,163)"/>
<rect x="615.2" y="479.32" width="77.80" height="31.47" fill="#9de0c0"/>
<rect x="693" y="479.32" width="78.30" height="31.47" fill="rgb(104,135,151)"/>
<rect x="1005" y="479.32" width="77.50" height="31.47" fill="#9de0c0"/>
<rect x="1082.5" y="479.32" width="78.10" height="31.47" fill="#9de0c0"/>
<text transform="translate(112.70,501.25) scale(1.07,1)" font-size="17" text-anchor="middle" font-weight="bold" font-family='"Liberation Sans", sans-serif' fill="#000" >7</text>
<text transform="translate(194.20,501.25) scale(1.07,1)" font-size="17" text-anchor="middle" font-weight="bold" font-family='"Liberation Sans", sans-serif' fill="#000" >2.6</text>
<text transform="translate(267.50,501.25) scale(1.07,1)" font-size="17" text-anchor="middle" font-weight="bold" font-family='"Liberation Sans", sans-serif' fill="#000" >0.07</text>
<text transform="translate(420.20,501.25) scale(1.07,1)" font-size="17" text-anchor="middle" font-weight="bold" font-family='"Liberation Sans", sans-serif' fill="#000" >122</text>
<text transform="translate(498.10,501.25) scale(1.07,1)" font-size="17" text-anchor="middle" font-weight="bold" font-family='"Liberation Sans", sans-serif' fill="#000" >150</text>
<text transform="translate(576.10,501.25) scale(1.07,1)" font-size="17" text-anchor="middle" font-weight="bold" font-family='"Liberation Sans", sans-serif' fill="#000" >163</text>
<text transform="translate(654.10,501.25) scale(1.07,1)" font-size="17" text-anchor="middle" font-weight="bold" font-family='"Liberation Sans", sans-serif' fill="#000" >1</text>
<text transform="translate(810.40,501.25) scale(1.07,1)" font-size="17" text-anchor="middle" font-weight="bold" font-family='"Liberation Sans", sans-serif' fill="#000" >104</text>
<text transform="translate(888.25,501.25) scale(1.07,1)" font-size="17" text-anchor="middle" font-weight="bold" font-family='"Liberation Sans", sans-serif' fill="#000" >135</text>
<text transform="translate(966.00,501.25) scale(1.07,1)" font-size="17" text-anchor="middle" font-weight="bold" font-family='"Liberation Sans", sans-serif' fill="#000" >151</text>
<text transform="translate(1043.75,501.25) scale(1.07,1)" font-size="17" text-anchor="middle" font-weight="bold" font-family='"Liberation Sans", sans-serif' fill="#000" >1</text>
<text transform="translate(1121.55,501.25) scale(1.07,1)" font-size="17" text-anchor="middle" font-weight="bold" font-family='"Liberation Sans", sans-serif' fill="#000" >1</text>
<rect x="156.7" y="510.79" width="75.00" height="31.47" fill="#f7f7c4"/>
<rect x="231.7" y="510.79" width="71.60" height="31.47" fill="#fdf0f2"/>
<rect x="303.3" y="510.79" width="77.90" height="31.47" fill="rgb(199,156,164)"/>
<rect x="693" y="510.79" width="78.30" height="31.47" fill="rgb(202,150,143)"/>
<text transform="translate(112.70,532.73) scale(1.07,1)" font-size="17" text-anchor="middle" font-weight="bold" font-family='"Liberation Sans", sans-serif' fill="#000" >8</text>
<text transform="translate(194.20,532.73) scale(1.07,1)" font-size="17" text-anchor="middle" font-weight="bold" font-family='"Liberation Sans", sans-serif' fill="#000" >0.73</text>
<text transform="translate(267.50,532.73) scale(1.07,1)" font-size="17" text-anchor="middle" font-weight="bold" font-family='"Liberation Sans", sans-serif' fill="#000" >0.03</text>
<text transform="translate(420.20,532.73) scale(1.07,1)" font-size="17" text-anchor="middle" font-weight="bold" font-family='"Liberation Sans", sans-serif' fill="#000" >199</text>
<text transform="translate(498.10,532.73) scale(1.07,1)" font-size="17" text-anchor="middle" font-weight="bold" font-family='"Liberation Sans", sans-serif' fill="#000" >156</text>
<text transform="translate(576.10,532.73) scale(1.07,1)" font-size="17" text-anchor="middle" font-weight="bold" font-family='"Liberation Sans", sans-serif' fill="#000" >164</text>
<text transform="translate(654.10,532.73) scale(1.07,1)" font-size="17" text-anchor="middle" font-weight="bold" font-family='"Liberation Sans", sans-serif' fill="#000" >0</text>
<text transform="translate(810.40,532.73) scale(1.07,1)" font-size="17" text-anchor="middle" font-weight="bold" font-family='"Liberation Sans", sans-serif' fill="#000" >202</text>
<text transform="translate(888.25,532.73) scale(1.07,1)" font-size="17" text-anchor="middle" font-weight="bold" font-family='"Liberation Sans", sans-serif' fill="#000" >150</text>
<text transform="translate(966.00,532.73) scale(1.07,1)" font-size="17" text-anchor="middle" font-weight="bold" font-family='"Liberation Sans", sans-serif' fill="#000" >143</text>
<text transform="translate(1043.75,532.73) scale(1.07,1)" font-size="17" text-anchor="middle" font-weight="bold" font-family='"Liberation Sans", sans-serif' fill="#000" >0</text>
<text transform="translate(1121.55,532.73) scale(1.07,1)" font-size="17" text-anchor="middle" font-weight="bold" font-family='"Liberation Sans", sans-serif' fill="#000" >0</text>
<rect x="156.7" y="542.26" width="75.00" height="31.47" fill="#f3f3aa"/>
<rect x="231.7" y="542.26" width="71.60" height="31.47" fill="#fde8ec"/>
<rect x="303.3" y="542.26" width="77.90" height="31.47" fill="rgb(146,146,159)"/>
<rect x="615.2" y="542.26" width="77.80" height="31.47" fill="#9de0c0"/>
<rect x="693" y="542.26" width="78.30" height="31.47" fill="rgb(166,146,140)"/>
<rect x="1005" y="542.26" width="77.50" height="31.47" fill="#9de0c0"/>
<rect x="1082.5" y="542.26" width="78.10" height="31.47" fill="#9de0c0"/>
<text transform="translate(112.70,564.20) scale(1.07,1)" font-size="17" text-anchor="middle" font-weight="bold" font-family='"Liberation Sans", sans-serif' fill="#000" >9</text>
<text transform="translate(194.20,564.20) scale(1.07,1)" font-size="17" text-anchor="middle" font-weight="bold" font-family='"Liberation Sans", sans-serif' fill="#000" >1.49</text>
<text transform="translate(267.50,564.20) scale(1.07,1)" font-size="17" text-anchor="middle" font-weight="bold" font-family='"Liberation Sans", sans-serif' fill="#000" >0.07</text>
<text transform="translate(420.20,564.20) scale(1.07,1)" font-size="17" text-anchor="middle" font-weight="bold" font-family='"Liberation Sans", sans-serif' fill="#000" >146</text>
<text transform="translate(498.10,564.20) scale(1.07,1)" font-size="17" text-anchor="middle" font-weight="bold" font-family='"Liberation Sans", sans-serif' fill="#000" >146</text>
<text transform="translate(576.10,564.20) scale(1.07,1)" font-size="17" text-anchor="middle" font-weight="bold" font-family='"Liberation Sans", sans-serif' fill="#000" >159</text>
<text transform="translate(654.10,564.20) scale(1.07,1)" font-size="17" text-anchor="middle" font-weight="bold" font-family='"Liberation Sans", sans-serif' fill="#000" >1</text>
<text transform="translate(810.40,564.20) scale(1.07,1)" font-size="17" text-anchor="middle" font-weight="bold" font-family='"Liberation Sans", sans-serif' fill="#000" >167</text>
<text transform="translate(888.25,564.20) scale(1.07,1)" font-size="17" text-anchor="middle" font-weight="bold" font-family='"Liberation Sans", sans-serif' fill="#000" >146</text>
<text transform="translate(966.00,564.20) scale(1.07,1)" font-size="17" text-anchor="middle" font-weight="bold" font-family='"Liberation Sans", sans-serif' fill="#000" >161</text>
<text transform="translate(1043.75,564.20) scale(1.07,1)" font-size="17" text-anchor="middle" font-weight="bold" font-family='"Liberation Sans", sans-serif' fill="#000" >1</text>
<text transform="translate(1121.55,564.20) scale(1.07,1)" font-size="17" text-anchor="middle" font-weight="bold" font-family='"Liberation Sans", sans-serif' fill="#000" >1</text>
<rect x="156.7" y="573.73" width="75.00" height="31.47" fill="#f7f774"/>
<rect x="231.7" y="573.73" width="71.60" height="31.47" fill="#fb7a98"/>
<rect x="303.3" y="573.73" width="77.90" height="31.47" fill="rgb(86,147,174)"/>
<rect x="615.2" y="573.73" width="77.80" height="31.47" fill="#9de0c0"/>
<rect x="693" y="573.73" width="78.30" height="31.47" fill="rgb(104,135,151)"/>
<rect x="1005" y="573.73" width="77.50" height="31.47" fill="#9de0c0"/>
<rect x="1082.5" y="573.73" width="78.10" height="31.47" fill="#9de0c0"/>
<text transform="translate(112.70,595.67) scale(1.07,1)" font-size="17" text-anchor="middle" font-weight="bold" font-family='"Liberation Sans", sans-serif' fill="#000" >10</text>
<text transform="translate(194.20,595.67) scale(1.07,1)" font-size="17" text-anchor="middle" font-weight="bold" font-family='"Liberation Sans", sans-serif' fill="#000" >2.76</text>
<text transform="translate(267.50,595.67) scale(1.07,1)" font-size="17" text-anchor="middle" font-weight="bold" font-family='"Liberation Sans", sans-serif' fill="#000" >0.95</text>
<text transform="translate(420.20,595.67) scale(1.07,1)" font-size="17" text-anchor="middle" font-weight="bold" font-family='"Liberation Sans", sans-serif' fill="#000" >86</text>
<text transform="translate(498.10,595.67) scale(1.07,1)" font-size="17" text-anchor="middle" font-weight="bold" font-family='"Liberation Sans", sans-serif' fill="#000" >147</text>
<text transform="translate(576.10,595.67) scale(1.07,1)" font-size="17" text-anchor="middle" font-weight="bold" font-family='"Liberation Sans", sans-serif' fill="#000" >174</text>
<text transform="translate(654.10,595.67) scale(1.07,1)" font-size="17" text-anchor="middle" font-weight="bold" font-family='"Liberation Sans", sans-serif' fill="#000" >1</text>
<text transform="translate(810.40,595.67) scale(1.07,1)" font-size="17" text-anchor="middle" font-weight="bold" font-family='"Liberation Sans", sans-serif' fill="#000" >104</text>
<text transform="translate(888.25,595.67) scale(1.07,1)" font-size="17" text-anchor="middle" font-weight="bold" font-family='"Liberation Sans", sans-serif' fill="#000" >135</text>
<text transform="translate(966.00,595.67) scale(1.07,1)" font-size="17" text-anchor="middle" font-weight="bold" font-family='"Liberation Sans", sans-serif' fill="#000" >151</text>
<text transform="translate(1043.75,595.67) scale(1.07,1)" font-size="17" text-anchor="middle" font-weight="bold" font-family='"Liberation Sans", sans-serif' fill="#000" >1</text>
<text transform="translate(1121.55,595.67) scale(1.07,1)" font-size="17" text-anchor="middle" font-weight="bold" font-family='"Liberation Sans", sans-serif' fill="#000" >1</text>
<rect x="156.7" y="605.20" width="75.00" height="31.47" fill="#fefee0"/>
<rect x="231.7" y="605.20" width="71.60" height="31.47" fill="#f9d4dc"/>
<rect x="303.3" y="605.20" width="77.90" height="31.47" fill="rgb(146,146,159)"/>
<rect x="615.2" y="605.20" width="77.80" height="31.47" fill="#9de0c0"/>
<rect x="693" y="605.20" width="78.30" height="31.47" fill="rgb(166,146,140)"/>
<rect x="1005" y="605.20" width="77.50" height="31.47" fill="#9de0c0"/>
<rect x="1082.5" y="605.20" width="78.10" height="31.47" fill="#9de0c0"/>
<text transform="translate(112.70,627.14) scale(1.07,1)" font-size="17" text-anchor="middle" font-weight="bold" font-family='"Liberation Sans", sans-serif' fill="#000" >11</text>
<text transform="translate(194.20,627.14) scale(1.07,1)" font-size="17" text-anchor="middle" font-weight="bold" font-family='"Liberation Sans", sans-serif' fill="#000" >0.47</text>
<text transform="translate(267.50,627.14) scale(1.07,1)" font-size="17" text-anchor="middle" font-weight="bold" font-family='"Liberation Sans", sans-serif' fill="#000" >0.15</text>
<text transform="translate(420.20,627.14) scale(1.07,1)" font-size="17" text-anchor="middle" font-weight="bold" font-family='"Liberation Sans", sans-serif' fill="#000" >146</text>
<text transform="translate(498.10,627.14) scale(1.07,1)" font-size="17" text-anchor="middle" font-weight="bold" font-family='"Liberation Sans", sans-serif' fill="#000" >146</text>
<text transform="translate(576.10,627.14) scale(1.07,1)" font-size="17" text-anchor="middle" font-weight="bold" font-family='"Liberation Sans", sans-serif' fill="#000" >159</text>
<text transform="translate(654.10,627.14) scale(1.07,1)" font-size="17" text-anchor="middle" font-weight="bold" font-family='"Liberation Sans", sans-serif' fill="#000" >1</text>
<text transform="translate(810.40,627.14) scale(1.07,1)" font-size="17" text-anchor="middle" font-weight="bold" font-family='"Liberation Sans", sans-serif' fill="#000" >167</text>
<text transform="translate(888.25,627.14) scale(1.07,1)" font-size="17" text-anchor="middle" font-weight="bold" font-family='"Liberation Sans", sans-serif' fill="#000" >146</text>
<text transform="translate(966.00,627.14) scale(1.07,1)" font-size="17" text-anchor="middle" font-weight="bold" font-family='"Liberation Sans", sans-serif' fill="#000" >161</text>
<text transform="translate(1043.75,627.14) scale(1.07,1)" font-size="17" text-anchor="middle" font-weight="bold" font-family='"Liberation Sans", sans-serif' fill="#000" >1</text>
<text transform="translate(1121.55,627.14) scale(1.07,1)" font-size="17" text-anchor="middle" font-weight="bold" font-family='"Liberation Sans", sans-serif' fill="#000" >1</text>
<rect x="156.7" y="636.67" width="75.00" height="31.47" fill="#fcfc66"/>
<rect x="231.7" y="636.67" width="71.60" height="31.47" fill="#fba0b4"/>
<rect x="303.3" y="636.67" width="77.90" height="31.47" fill="rgb(184,150,190)"/>
<rect x="615.2" y="636.67" width="77.80" height="31.47" fill="#9de0c0"/>
<rect x="693" y="636.67" width="78.30" height="31.47" fill="rgb(144,161,187)"/>
<rect x="1005" y="636.67" width="77.50" height="31.47" fill="#9de0c0"/>
<rect x="1082.5" y="636.67" width="78.10" height="31.47" fill="#9de0c0"/>
<text transform="translate(112.70,658.61) scale(1.07,1)" font-size="17" text-anchor="middle" font-weight="bold" font-family='"Liberation Sans", sans-serif' fill="#000" >12</text>
<text transform="translate(194.20,658.61) scale(1.07,1)" font-size="17" text-anchor="middle" font-weight="bold" font-family='"Liberation Sans", sans-serif' fill="#000" >6.1</text>
<text transform="translate(267.50,658.61) scale(1.07,1)" font-size="17" text-anchor="middle" font-weight="bold" font-family='"Liberation Sans", sans-serif' fill="#000" >0.6</text>
<text transform="translate(420.20,658.61) scale(1.07,1)" font-size="17" text-anchor="middle" font-weight="bold" font-family='"Liberation Sans", sans-serif' fill="#000" >184</text>
<text transform="translate(498.10,658.61) scale(1.07,1)" font-size="17" text-anchor="middle" font-weight="bold" font-family='"Liberation Sans", sans-serif' fill="#000" >150</text>
<text transform="translate(576.10,658.61) scale(1.07,1)" font-size="17" text-anchor="middle" font-weight="bold" font-family='"Liberation Sans", sans-serif' fill="#000" >190</text>
<text transform="translate(654.10,658.61) scale(1.07,1)" font-size="17" text-anchor="middle" font-weight="bold" font-family='"Liberation Sans", sans-serif' fill="#000" >1</text>
<text transform="translate(810.40,658.61) scale(1.07,1)" font-size="17" text-anchor="middle" font-weight="bold" font-family='"Liberation Sans", sans-serif' fill="#000" >144</text>
<text transform="translate(888.25,658.61) scale(1.07,1)" font-size="17" text-anchor="middle" font-weight="bold" font-family='"Liberation Sans", sans-serif' fill="#000" >161</text>
<text transform="translate(966.00,658.61) scale(1.07,1)" font-size="17" text-anchor="middle" font-weight="bold" font-family='"Liberation Sans", sans-serif' fill="#000" >187</text>
<text transform="translate(1043.75,658.61) scale(1.07,1)" font-size="17" text-anchor="middle" font-weight="bold" font-family='"Liberation Sans", sans-serif' fill="#000" >1</text>
<text transform="translate(1121.55,658.61) scale(1.07,1)" font-size="17" text-anchor="middle" font-weight="bold" font-family='"Liberation Sans", sans-serif' fill="#000" >1</text>
<rect x="156.7" y="668.14" width="75.00" height="31.47" fill="#fafa66"/>
<rect x="231.7" y="668.14" width="71.60" height="31.47" fill="#fcb8c8"/>
<rect x="303.3" y="668.14" width="77.90" height="31.47" fill="rgb(184,150,190)"/>
<rect x="615.2" y="668.14" width="77.80" height="31.47" fill="#9de0c0"/>
<rect x="693" y="668.14" width="78.30" height="31.47" fill="rgb(155,165,190)"/>
<rect x="1005" y="668.14" width="77.50" height="31.47" fill="#9de0c0"/>
<rect x="1082.5" y="668.14" width="78.10" height="31.47" fill="#9de0c0"/>
<text transform="translate(112.70,690.08) scale(1.07,1)" font-size="17" text-anchor="middle" font-weight="bold" font-family='"Liberation Sans", sans-serif' fill="#000" >13</text>
<text transform="translate(194.20,690.08) scale(1.07,1)" font-size="17" text-anchor="middle" font-weight="bold" font-family='"Liberation Sans", sans-serif' fill="#000" >6.31</text>
<text transform="translate(267.50,690.08) scale(1.07,1)" font-size="17" text-anchor="middle" font-weight="bold" font-family='"Liberation Sans", sans-serif' fill="#000" >0.4</text>
<text transform="translate(420.20,690.08) scale(1.07,1)" font-size="17" text-anchor="middle" font-weight="bold" font-family='"Liberation Sans", sans-serif' fill="#000" >184</text>
<text transform="translate(498.10,690.08) scale(1.07,1)" font-size="17" text-anchor="middle" font-weight="bold" font-family='"Liberation Sans", sans-serif' fill="#000" >150</text>
<text transform="translate(576.10,690.08) scale(1.07,1)" font-size="17" text-anchor="middle" font-weight="bold" font-family='"Liberation Sans", sans-serif' fill="#000" >190</text>
<text transform="translate(654.10,690.08) scale(1.07,1)" font-size="17" text-anchor="middle" font-weight="bold" font-family='"Liberation Sans", sans-serif' fill="#000" >1</text>
<text transform="translate(810.40,690.08) scale(1.07,1)" font-size="17" text-anchor="middle" font-weight="bold" font-family='"Liberation Sans", sans-serif' fill="#000" >155</text>
<text transform="translate(888.25,690.08) scale(1.07,1)" font-size="17" text-anchor="middle" font-weight="bold" font-family='"Liberation Sans", sans-serif' fill="#000" >165</text>
<text transform="translate(966.00,690.08) scale(1.07,1)" font-size="17" text-anchor="middle" font-weight="bold" font-family='"Liberation Sans", sans-serif' fill="#000" >190</text>
<text transform="translate(1043.75,690.08) scale(1.07,1)" font-size="17" text-anchor="middle" font-weight="bold" font-family='"Liberation Sans", sans-serif' fill="#000" >1</text>
<text transform="translate(1121.55,690.08) scale(1.07,1)" font-size="17" text-anchor="middle" font-weight="bold" font-family='"Liberation Sans", sans-serif' fill="#000" >1</text>
<rect x="156.7" y="699.61" width="75.00" height="31.47" fill="#fefee0"/>
<rect x="231.7" y="699.61" width="71.60" height="31.47" fill="#fdd0da"/>
<rect x="303.3" y="699.61" width="77.90" height="31.47" fill="rgb(146,146,159)"/>
<rect x="615.2" y="699.61" width="77.80" height="31.47" fill="#9de0c0"/>
<rect x="693" y="699.61" width="78.30" height="31.47" fill="rgb(166,146,140)"/>
<rect x="1005" y="699.61" width="77.50" height="31.47" fill="#9de0c0"/>
<rect x="1082.5" y="699.61" width="78.10" height="31.47" fill="#9de0c0"/>
<text transform="translate(112.70,721.55) scale(1.07,1)" font-size="17" text-anchor="middle" font-weight="bold" font-family='"Liberation Sans", sans-serif' fill="#000" >14</text>
<text transform="translate(194.20,721.55) scale(1.07,1)" font-size="17" text-anchor="middle" font-weight="bold" font-family='"Liberation Sans", sans-serif' fill="#000" >0.49</text>
<text transform="translate(267.50,721.55) scale(1.07,1)" font-size="17" text-anchor="middle" font-weight="bold" font-family='"Liberation Sans", sans-serif' fill="#000" >0.21</text>
<text transform="translate(420.20,721.55) scale(1.07,1)" font-size="17" text-anchor="middle" font-weight="bold" font-family='"Liberation Sans", sans-serif' fill="#000" >146</text>
<text transform="translate(498.10,721.55) scale(1.07,1)" font-size="17" text-anchor="middle" font-weight="bold" font-family='"Liberation Sans", sans-serif' fill="#000" >146</text>
<text transform="translate(576.10,721.55) scale(1.07,1)" font-size="17" text-anchor="middle" font-weight="bold" font-family='"Liberation Sans", sans-serif' fill="#000" >159</text>
<text transform="translate(654.10,721.55) scale(1.07,1)" font-size="17" text-anchor="middle" font-weight="bold" font-family='"Liberation Sans", sans-serif' fill="#000" >1</text>
<text transform="translate(810.40,721.55) scale(1.07,1)" font-size="17" text-anchor="middle" font-weight="bold" font-family='"Liberation Sans", sans-serif' fill="#000" >167</text>
<text transform="translate(888.25,721.55) scale(1.07,1)" font-size="17" text-anchor="middle" font-weight="bold" font-family='"Liberation Sans", sans-serif' fill="#000" >146</text>
<text transform="translate(966.00,721.55) scale(1.07,1)" font-size="17" text-anchor="middle" font-weight="bold" font-family='"Liberation Sans", sans-serif' fill="#000" >161</text>
<text transform="translate(1043.75,721.55) scale(1.07,1)" font-size="17" text-anchor="middle" font-weight="bold" font-family='"Liberation Sans", sans-serif' fill="#000" >1</text>
<text transform="translate(1121.55,721.55) scale(1.07,1)" font-size="17" text-anchor="middle" font-weight="bold" font-family='"Liberation Sans", sans-serif' fill="#000" >1</text>
<rect x="156.7" y="731.08" width="75.00" height="31.47" fill="#f8f8d4"/>
<rect x="231.7" y="731.08" width="71.60" height="31.47" fill="#f9d4dc"/>
<rect x="303.3" y="731.08" width="77.90" height="31.47" fill="rgb(199,156,164)"/>
<rect x="693" y="731.08" width="78.30" height="31.47" fill="rgb(197,134,143)"/>
<text transform="translate(112.70,753.01) scale(1.07,1)" font-size="17" text-anchor="middle" font-weight="bold" font-family='"Liberation Sans", sans-serif' fill="#000" >15</text>
<text transform="translate(194.20,753.01) scale(1.07,1)" font-size="17" text-anchor="middle" font-weight="bold" font-family='"Liberation Sans", sans-serif' fill="#000" >0.27</text>
<text transform="translate(267.50,753.01) scale(1.07,1)" font-size="17" text-anchor="middle" font-weight="bold" font-family='"Liberation Sans", sans-serif' fill="#000" >0.13</text>
<text transform="translate(420.20,753.01) scale(1.07,1)" font-size="17" text-anchor="middle" font-weight="bold" font-family='"Liberation Sans", sans-serif' fill="#000" >199</text>
<text transform="translate(498.10,753.01) scale(1.07,1)" font-size="17" text-anchor="middle" font-weight="bold" font-family='"Liberation Sans", sans-serif' fill="#000" >156</text>
<text transform="translate(576.10,753.01) scale(1.07,1)" font-size="17" text-anchor="middle" font-weight="bold" font-family='"Liberation Sans", sans-serif' fill="#000" >164</text>
<text transform="translate(654.10,753.01) scale(1.07,1)" font-size="17" text-anchor="middle" font-weight="bold" font-family='"Liberation Sans", sans-serif' fill="#000" >0</text>
<text transform="translate(810.40,753.01) scale(1.07,1)" font-size="17" text-anchor="middle" font-weight="bold" font-family='"Liberation Sans", sans-serif' fill="#000" >197</text>
<text transform="translate(888.25,753.01) scale(1.07,1)" font-size="17" text-anchor="middle" font-weight="bold" font-family='"Liberation Sans", sans-serif' fill="#000" >134</text>
<text transform="translate(966.00,753.01) scale(1.07,1)" font-size="17" text-anchor="middle" font-weight="bold" font-family='"Liberation Sans", sans-serif' fill="#000" >143</text>
<text transform="translate(1043.75,753.01) scale(1.07,1)" font-size="17" text-anchor="middle" font-weight="bold" font-family='"Liberation Sans", sans-serif' fill="#000" >0</text>
<text transform="translate(1121.55,753.01) scale(1.07,1)" font-size="17" text-anchor="middle" font-weight="bold" font-family='"Liberation Sans", sans-serif' fill="#000" >0</text>
<rect x="156.7" y="762.55" width="75.00" height="31.47" fill="#fdfddc"/>
<rect x="231.7" y="762.55" width="71.60" height="31.47" fill="#fb5c84"/>
<rect x="303.3" y="762.55" width="77.90" height="31.47" fill="rgb(146,146,159)"/>
<rect x="615.2" y="762.55" width="77.80" height="31.47" fill="#9de0c0"/>
<rect x="693" y="762.55" width="78.30" height="31.47" fill="rgb(197,134,143)"/>
<text transform="translate(112.70,784.49) scale(1.07,1)" font-size="17" text-anchor="middle" font-weight="bold" font-family='"Liberation Sans", sans-serif' fill="#000" >16</text>
<text transform="translate(194.20,784.49) scale(1.07,1)" font-size="17" text-anchor="middle" font-weight="bold" font-family='"Liberation Sans", sans-serif' fill="#000" >0.53</text>
<text transform="translate(267.50,784.49) scale(1.07,1)" font-size="17" text-anchor="middle" font-weight="bold" font-family='"Liberation Sans", sans-serif' fill="#000" >0.96</text>
<text transform="translate(420.20,784.49) scale(1.07,1)" font-size="17" text-anchor="middle" font-weight="bold" font-family='"Liberation Sans", sans-serif' fill="#000" >146</text>
<text transform="translate(498.10,784.49) scale(1.07,1)" font-size="17" text-anchor="middle" font-weight="bold" font-family='"Liberation Sans", sans-serif' fill="#000" >146</text>
<text transform="translate(576.10,784.49) scale(1.07,1)" font-size="17" text-anchor="middle" font-weight="bold" font-family='"Liberation Sans", sans-serif' fill="#000" >159</text>
<text transform="translate(654.10,784.49) scale(1.07,1)" font-size="17" text-anchor="middle" font-weight="bold" font-family='"Liberation Sans", sans-serif' fill="#000" >1</text>
<text transform="translate(810.40,784.49) scale(1.07,1)" font-size="17" text-anchor="middle" font-weight="bold" font-family='"Liberation Sans", sans-serif' fill="#000" >197</text>
<text transform="translate(888.25,784.49) scale(1.07,1)" font-size="17" text-anchor="middle" font-weight="bold" font-family='"Liberation Sans", sans-serif' fill="#000" >134</text>
<text transform="translate(966.00,784.49) scale(1.07,1)" font-size="17" text-anchor="middle" font-weight="bold" font-family='"Liberation Sans", sans-serif' fill="#000" >143</text>
<text transform="translate(1043.75,784.49) scale(1.07,1)" font-size="17" text-anchor="middle" font-weight="bold" font-family='"Liberation Sans", sans-serif' fill="#000" >0</text>
<text transform="translate(1121.55,784.49) scale(1.07,1)" font-size="17" text-anchor="middle" font-weight="bold" font-family='"Liberation Sans", sans-serif' fill="#000" >0</text>
<line x1="68.7" y1="290.50" x2="1160.6" y2="290.50" stroke="#000" stroke-width="1.4"/>
<line x1="68.7" y1="321.97" x2="1160.6" y2="321.97" stroke="#000" stroke-width="1.4"/>
<line x1="68.7" y1="353.44" x2="1160.6" y2="353.44" stroke="#000" stroke-width="1.4"/>
<line x1="68.7" y1="384.91" x2="1160.6" y2="384.91" stroke="#000" stroke-width="1.4"/>
<line x1="68.7" y1="416.38" x2="1160.6" y2="416.38" stroke="#000" stroke-width="1.4"/>
<line x1="68.7" y1="447.85" x2="1160.6" y2="447.85" stroke="#000" stroke-width="1.4"/>
<line x1="68.7" y1="479.32" x2="1160.6" y2="479.32" stroke="#000" stroke-width="1.4"/>
<line x1="68.7" y1="510.79" x2="1160.6" y2="510.79" stroke="#000" stroke-width="1.4"/>
<line x1="68.7" y1="542.26" x2="1160.6" y2="542.26" stroke="#000" stroke-width="1.4"/>
<line x1="68.7" y1="573.73" x2="1160.6" y2="573.73" stroke="#000" stroke-width="1.4"/>
<line x1="68.7" y1="605.20" x2="1160.6" y2="605.20" stroke="#000" stroke-width="1.4"/>
<line x1="68.7" y1="636.67" x2="1160.6" y2="636.67" stroke="#000" stroke-width="1.4"/>
<line x1="68.7" y1="668.14" x2="1160.6" y2="668.14" stroke="#000" stroke-width="1.4"/>
<line x1="68.7" y1="699.61" x2="1160.6" y2="699.61" stroke="#000" stroke-width="1.4"/>
<line x1="68.7" y1="731.08" x2="1160.6" y2="731.08" stroke="#000" stroke-width="1.4"/>
<line x1="68.7" y1="762.55" x2="1160.6" y2="762.55" stroke="#000" stroke-width="1.4"/>
<line x1="68.7" y1="794.02" x2="1160.6" y2="794.02" stroke="#000" stroke-width="1.4"/>
<line x1="156.7" y1="238.5" x2="156.7" y2="794.02" stroke="#000" stroke-width="1.5"/>
<line x1="231.7" y1="238.5" x2="231.7" y2="794.02" stroke="#000" stroke-width="1.5"/>
<line x1="303.3" y1="238.5" x2="303.3" y2="794.02" stroke="#000" stroke-width="1.5"/>
<line x1="381.2" y1="238.5" x2="381.2" y2="794.02" stroke="#000" stroke-width="1.5"/>
<line x1="459.2" y1="238.5" x2="459.2" y2="794.02" stroke="#000" stroke-width="1.5"/>
<line x1="537" y1="238.5" x2="537" y2="794.02" stroke="#000" stroke-width="1.5"/>
<line x1="615.2" y1="238.5" x2="615.2" y2="794.02" stroke="#000" stroke-width="1.5"/>
<line x1="693" y1="238.5" x2="693" y2="794.02" stroke="#000" stroke-width="1.5"/>
<line x1="771.3" y1="238.5" x2="771.3" y2="794.02" stroke="#000" stroke-width="1.5"/>
<line x1="849.5" y1="238.5" x2="849.5" y2="794.02" stroke="#000" stroke-width="1.5"/>
<line x1="927" y1="238.5" x2="927" y2="794.02" stroke="#000" stroke-width="1.5"/>
<line x1="1005" y1="238.5" x2="1005" y2="794.02" stroke="#000" stroke-width="1.5"/>
<line x1="1082.5" y1="238.5" x2="1082.5" y2="794.02" stroke="#000" stroke-width="1.5"/>
<rect x="68.7" y="238.5" width="1091.90" height="555.52" fill="none" stroke="#000" stroke-width="1.8"/>
<text transform="translate(112.70,271.00) scale(1.07,1)" font-size="17" text-anchor="middle" font-weight="bold" font-family='"Liberation Sans", sans-serif' fill="#000" >Sample</text>
<text transform="translate(194.20,260.50) scale(1.07,1)" font-size="17" text-anchor="middle" font-weight="bold" font-family='"Liberation Sans", sans-serif' fill="#000" >GSH</text>
<text transform="translate(194.20,281.50) scale(1.07,1)" font-size="17" text-anchor="middle" font-weight="bold" font-family='"Liberation Sans", sans-serif' fill="#000" >(mM)</text>
<text transform="translate(267.50,260.50) scale(1.07,1)" font-size="17" text-anchor="middle" font-weight="bold" font-family='"Liberation Sans", sans-serif' fill="#000" >Glu</text>
<text transform="translate(267.50,281.50) scale(1.07,1)" font-size="17" text-anchor="middle" font-weight="bold" font-family='"Liberation Sans", sans-serif' fill="#000" >(mM)</text>
<text transform="translate(342.25,271.00) scale(1.07,1)" font-size="17" text-anchor="middle" font-weight="bold" font-family='"Liberation Sans", sans-serif' fill="#000" >Img I</text>
<text transform="translate(420.70,271.00) scale(1.07,1)" font-size="17" text-anchor="middle" font-weight="bold" font-family='"Liberation Sans", sans-serif' fill="#000" >R<tspan font-size="11.5" font-weight="normal" dy="3.6">I</tspan></text>
<text transform="translate(498.60,271.00) scale(1.07,1)" font-size="17" text-anchor="middle" font-weight="bold" font-family='"Liberation Sans", sans-serif' fill="#000" >G<tspan font-size="11.5" font-weight="bold" dy="3.6">I</tspan></text>
<text transform="translate(576.60,271.00) scale(1.07,1)" font-size="17" text-anchor="middle" font-weight="bold" font-family='"Liberation Sans", sans-serif' fill="#000" >B<tspan font-size="11.5" font-weight="normal" dy="3.6">I</tspan></text>
<text transform="translate(810.90,271.00) scale(1.07,1)" font-size="17" text-anchor="middle" font-weight="bold" font-family='"Liberation Sans", sans-serif' fill="#000" >R<tspan font-size="11.5" font-weight="bold" dy="3.6">II</tspan></text>
<text transform="translate(888.75,271.00) scale(1.07,1)" font-size="17" text-anchor="middle" font-weight="bold" font-family='"Liberation Sans", sans-serif' fill="#000" >G<tspan font-size="11.5" font-weight="bold" dy="3.6">II</tspan></text>
<text transform="translate(966.50,271.00) scale(1.07,1)" font-size="17" text-anchor="middle" font-weight="bold" font-family='"Liberation Sans", sans-serif' fill="#000" >B<tspan font-size="11.5" font-weight="bold" dy="3.6">II</tspan></text>
<text transform="translate(654.10,271.00) scale(1.07,1)" font-size="17" text-anchor="middle" font-weight="bold" font-family='"Liberation Sans", sans-serif' fill="#000" >Input I</text>
<text transform="translate(732.15,271.00) scale(1.07,1)" font-size="17" text-anchor="middle" font-weight="bold" font-family='"Liberation Sans", sans-serif' fill="#000" >Img II</text>
<text transform="translate(1043.75,260.50) scale(1.07,1)" font-size="17" text-anchor="middle" font-weight="bold" font-family='"Liberation Sans", sans-serif' fill="#000" >Input</text>
<text transform="translate(1043.75,281.50) scale(1.07,1)" font-size="17" text-anchor="middle" font-weight="bold" font-family='"Liberation Sans", sans-serif' fill="#000" >II</text>
<text transform="translate(1121.55,271.00) scale(1.07,1)" font-size="17" text-anchor="middle" font-weight="bold" font-family='"Liberation Sans", sans-serif' fill="#000" >0utput</text>
<defs><radialGradient id="dotG" cx="0.38" cy="0.35" r="0.65" fx="0.35" fy="0.3">
<stop offset="0" stop-color="#ffffff"/><stop offset="0.16" stop-color="#ffe0e0"/><stop offset="0.36" stop-color="#ff1a1a"/><stop offset="0.8" stop-color="#ff0000"/><stop offset="1" stop-color="#e40000"/></radialGradient></defs>
<rect x="69" y="832.5" width="328" height="481.5" fill="#fafafa"/>
<rect x="150.0" y="847.3" width="224.90" height="43.50" fill="#dbdcfa"/>
<rect x="150.0" y="890.8" width="224.90" height="134.10" fill="#facdfa"/>
<circle cx="163.23" cy="922.60" r="4.3" fill="url(#dotG)"/>
<circle cx="176.46" cy="881.68" r="4.3" fill="url(#dotG)"/>
<circle cx="189.69" cy="931.27" r="4.3" fill="url(#dotG)"/>
<circle cx="202.92" cy="1009.98" r="4.3" fill="url(#dotG)"/>
<circle cx="216.15" cy="887.08" r="4.3" fill="url(#dotG)"/>
<circle cx="229.38" cy="997.19" r="4.3" fill="url(#dotG)"/>
<circle cx="242.61" cy="903.71" r="4.3" fill="url(#dotG)"/>
<circle cx="255.84" cy="881.68" r="4.3" fill="url(#dotG)"/>
<circle cx="269.06" cy="905.55" r="4.3" fill="url(#dotG)"/>
<circle cx="282.29" cy="957.41" r="4.3" fill="url(#dotG)"/>
<circle cx="295.52" cy="905.55" r="4.3" fill="url(#dotG)"/>
<circle cx="308.75" cy="997.19" r="4.3" fill="url(#dotG)"/>
<circle cx="321.98" cy="997.19" r="4.3" fill="url(#dotG)"/>
<circle cx="335.21" cy="905.55" r="4.3" fill="url(#dotG)"/>
<circle cx="348.44" cy="881.68" r="4.3" fill="url(#dotG)"/>
<circle cx="361.67" cy="905.55" r="4.3" fill="url(#dotG)"/>
<line x1="145.2" y1="847.30" x2="150.0" y2="847.30" stroke="#000" stroke-width="3.2"/>
<text x="141.20" y="854.20" font-size="20" text-anchor="end" font-weight="bold" font-family='"Liberation Sans", sans-serif' fill="#000" >1.00</text>
<line x1="145.2" y1="882.82" x2="150.0" y2="882.82" stroke="#000" stroke-width="3.2"/>
<text x="141.20" y="889.72" font-size="20" text-anchor="end" font-weight="bold" font-family='"Liberation Sans", sans-serif' fill="#000" >0.95</text>
<line x1="145.2" y1="918.34" x2="150.0" y2="918.34" stroke="#000" stroke-width="3.2"/>
<text x="141.20" y="925.24" font-size="20" text-anchor="end" font-weight="bold" font-family='"Liberation Sans", sans-serif' fill="#000" >0.90</text>
<line x1="145.2" y1="953.86" x2="150.0" y2="953.86" stroke="#000" stroke-width="3.2"/>
<text x="141.20" y="960.76" font-size="20" text-anchor="end" font-weight="bold" font-family='"Liberation Sans", sans-serif' fill="#000" >0.85</text>
<line x1="145.2" y1="989.38" x2="150.0" y2="989.38" stroke="#000" stroke-width="3.2"/>
<text x="141.20" y="996.28" font-size="20" text-anchor="end" font-weight="bold" font-family='"Liberation Sans", sans-serif' fill="#000" >0.80</text>
<line x1="145.2" y1="1024.90" x2="150.0" y2="1024.90" stroke="#000" stroke-width="3.2"/>
<text x="141.20" y="1031.80" font-size="20" text-anchor="end" font-weight="bold" font-family='"Liberation Sans", sans-serif' fill="#000" >0.75</text>
<line x1="163.23" y1="1024.9" x2="163.23" y2="1029.10" stroke="#000" stroke-width="3.2"/>
<line x1="176.46" y1="1024.9" x2="176.46" y2="1029.10" stroke="#000" stroke-width="3.2"/>
<line x1="189.69" y1="1024.9" x2="189.69" y2="1029.10" stroke="#000" stroke-width="3.2"/>
<line x1="202.92" y1="1024.9" x2="202.92" y2="1029.10" stroke="#000" stroke-width="3.2"/>
<line x1="216.15" y1="1024.9" x2="216.15" y2="1029.10" stroke="#000" stroke-width="3.2"/>
<line x1="229.38" y1="1024.9" x2="229.38" y2="1029.10" stroke="#000" stroke-width="3.2"/>
<line x1="242.61" y1="1024.9" x2="242.61" y2="1029.10" stroke="#000" stroke-width="3.2"/>
<line x1="255.84" y1="1024.9" x2="255.84" y2="1029.10" stroke="#000" stroke-width="3.2"/>
<line x1="269.06" y1="1024.9" x2="269.06" y2="1029.10" stroke="#000" stroke-width="3.2"/>
<line x1="282.29" y1="1024.9" x2="282.29" y2="1029.10" stroke="#000" stroke-width="3.2"/>
<line x1="295.52" y1="1024.9" x2="295.52" y2="1029.10" stroke="#000" stroke-width="3.2"/>
<line x1="308.75" y1="1024.9" x2="308.75" y2="1029.10" stroke="#000" stroke-width="3.2"/>
<line x1="321.98" y1="1024.9" x2="321.98" y2="1029.10" stroke="#000" stroke-width="3.2"/>
<line x1="335.21" y1="1024.9" x2="335.21" y2="1029.10" stroke="#000" stroke-width="3.2"/>
<line x1="348.44" y1="1024.9" x2="348.44" y2="1029.10" stroke="#000" stroke-width="3.2"/>
<line x1="361.67" y1="1024.9" x2="361.67" y2="1029.10" stroke="#000" stroke-width="3.2"/>
<rect x="150.0" y="847.3" width="224.90" height="177.60" fill="none" stroke="#000" stroke-width="3.5"/>
<text x="147.00" y="1041.40" font-size="13.7" text-anchor="start" font-weight="bold" font-family='"Liberation Sans", sans-serif' fill="#000" font-style="italic" textLength="232" lengthAdjust="spacingAndGlyphs">1 2 3 4 5 6 7 8 9 10 11 12 13 14 15 16</text>
<text x="207.93" y="1062.60" font-size="21.5" text-anchor="start" font-weight="bold" font-family='"Liberation Sans", sans-serif' fill="#000"  textLength="95.65" lengthAdjust="spacingAndGlyphs">Samples</text>
<text transform="translate(90.1,961.3) rotate(-90)" font-size="23.5" font-weight="bold" font-family='"Liberation Sans", sans-serif'><tspan fill="#11ee11">G</tspan><tspan fill="#11ee11" font-size="15.5" dy="6">I</tspan><tspan fill="#000" dy="-6" dx="0.5">/</tspan><tspan fill="#1010ee">B</tspan><tspan fill="#1010ee" font-size="15.5" dy="6">I</tspan></text>
<text x="55.30" y="856.80" font-size="34" text-anchor="start" font-weight="bold" font-family='"Liberation Sans", sans-serif' fill="#000"  textLength="19.30" lengthAdjust="spacingAndGlyphs">c</text>
<rect x="150.0" y="1089.0" width="224.90" height="76.60" fill="#dbdcfa"/>
<rect x="150.0" y="1165.6" width="224.90" height="100.50" fill="#facdfa"/>
<circle cx="163.23" cy="1248.57" r="4.3" fill="url(#dotG)"/>
<circle cx="176.46" cy="1123.08" r="4.3" fill="url(#dotG)"/>
<circle cx="189.69" cy="1232.51" r="4.3" fill="url(#dotG)"/>
<circle cx="202.92" cy="1248.57" r="4.3" fill="url(#dotG)"/>
<circle cx="216.15" cy="1123.08" r="4.3" fill="url(#dotG)"/>
<circle cx="229.38" cy="1223.48" r="4.3" fill="url(#dotG)"/>
<circle cx="242.61" cy="1248.57" r="4.3" fill="url(#dotG)"/>
<circle cx="255.84" cy="1105.61" r="4.3" fill="url(#dotG)"/>
<circle cx="269.06" cy="1179.74" r="4.3" fill="url(#dotG)"/>
<circle cx="282.29" cy="1248.57" r="4.3" fill="url(#dotG)"/>
<circle cx="295.52" cy="1179.74" r="4.3" fill="url(#dotG)"/>
<circle cx="308.75" cy="1232.51" r="4.3" fill="url(#dotG)"/>
<circle cx="321.98" cy="1223.48" r="4.3" fill="url(#dotG)"/>
<circle cx="335.21" cy="1179.74" r="4.3" fill="url(#dotG)"/>
<circle cx="348.44" cy="1112.52" r="4.3" fill="url(#dotG)"/>
<circle cx="361.67" cy="1112.52" r="4.3" fill="url(#dotG)"/>
<line x1="145.7" y1="1108.10" x2="150.0" y2="1108.10" stroke="#000" stroke-width="3.2"/>
<text x="142.40" y="1115.00" font-size="20.5" text-anchor="end" font-weight="bold" font-family='"Liberation Sans", sans-serif' fill="#000" >1.4</text>
<line x1="145.7" y1="1147.60" x2="150.0" y2="1147.60" stroke="#000" stroke-width="3.2"/>
<text x="142.40" y="1154.50" font-size="20.5" text-anchor="end" font-weight="bold" font-family='"Liberation Sans", sans-serif' fill="#000" >1.2</text>
<line x1="145.7" y1="1187.10" x2="150.0" y2="1187.10" stroke="#000" stroke-width="3.2"/>
<text x="142.40" y="1194.00" font-size="20.5" text-anchor="end" font-weight="bold" font-family='"Liberation Sans", sans-serif' fill="#000" >1.0</text>
<line x1="145.7" y1="1226.60" x2="150.0" y2="1226.60" stroke="#000" stroke-width="3.2"/>
<text x="142.40" y="1233.50" font-size="20.5" text-anchor="end" font-weight="bold" font-family='"Liberation Sans", sans-serif' fill="#000" >0.8</text>
<line x1="145.7" y1="1266.10" x2="150.0" y2="1266.10" stroke="#000" stroke-width="3.2"/>
<text x="142.40" y="1273.00" font-size="20.5" text-anchor="end" font-weight="bold" font-family='"Liberation Sans", sans-serif' fill="#000" >0.6</text>
<line x1="163.23" y1="1266.1" x2="163.23" y2="1270.30" stroke="#000" stroke-width="3.2"/>
<line x1="176.46" y1="1266.1" x2="176.46" y2="1270.30" stroke="#000" stroke-width="3.2"/>
<line x1="189.69" y1="1266.1" x2="189.69" y2="1270.30" stroke="#000" stroke-width="3.2"/>
<line x1="202.92" y1="1266.1" x2="202.92" y2="1270.30" stroke="#000" stroke-width="3.2"/>
<line x1="216.15" y1="1266.1" x2="216.15" y2="1270.30" stroke="#000" stroke-width="3.2"/>
<line x1="229.38" y1="1266.1" x2="229.38" y2="1270.30" stroke="#000" stroke-width="3.2"/>
<line x1="242.61" y1="1266.1" x2="242.61" y2="1270.30" stroke="#000" stroke-width="3.2"/>
<line x1="255.84" y1="1266.1" x2="255.84" y2="1270.30" stroke="#000" stroke-width="3.2"/>
<line x1="269.06" y1="1266.1" x2="269.06" y2="1270.30" stroke="#000" stroke-width="3.2"/>
<line x1="282.29" y1="1266.1" x2="282.29" y2="1270.30" stroke="#000" stroke-width="3.2"/>
<line x1="295.52" y1="1266.1" x2="295.52" y2="1270.30" stroke="#000" stroke-width="3.2"/>
<line x1="308.75" y1="1266.1" x2="308.75" y2="1270.30" stroke="#000" stroke-width="3.2"/>
<line x1="321.98" y1="1266.1" x2="321.98" y2="1270.30" stroke="#000" stroke-width="3.2"/>
<line x1="335.21" y1="1266.1" x2="335.21" y2="1270.30" stroke="#000" stroke-width="3.2"/>
<line x1="348.44" y1="1266.1" x2="348.44" y2="1270.30" stroke="#000" stroke-width="3.2"/>
<line x1="361.67" y1="1266.1" x2="361.67" y2="1270.30" stroke="#000" stroke-width="3.2"/>
<rect x="150.0" y="1089.0" width="224.90" height="177.10" fill="none" stroke="#000" stroke-width="3.5"/>
<text x="147.00" y="1282.60" font-size="13.7" text-anchor="start" font-weight="bold" font-family='"Liberation Sans", sans-serif' fill="#000" font-style="italic" textLength="232" lengthAdjust="spacingAndGlyphs">1 2 3 4 5 6 7 8 9 10 11 12 13 14 15 16</text>
<text x="208.93" y="1303.80" font-size="21.5" text-anchor="start" font-weight="bold" font-family='"Liberation Sans", sans-serif' fill="#000"  textLength="95.65" lengthAdjust="spacingAndGlyphs">Samples</text>
<text transform="translate(101,1204.6) rotate(-90)" font-size="22.5" font-weight="bold" font-family='"Liberation Sans", sans-serif'><tspan fill="#ff0000">R</tspan><tspan fill="#ff0000" font-size="15.5" dy="6.5">II</tspan><tspan fill="#000" dy="-6.5">/</tspan><tspan fill="#0000ff">B</tspan><tspan fill="#0000ff" font-size="15.5" dy="6.5">II</tspan></text>
<text x="55.25" y="1108.70" font-size="35" text-anchor="start" font-weight="bold" font-family='"Liberation Sans", sans-serif' fill="#000"  textLength="21.50" lengthAdjust="spacingAndGlyphs">d</text>
<rect x="440.6" y="848.1" width="341.2" height="112.7" fill="#f2f2f2"/>
<rect x="440.6" y="960.8" width="112.1" height="309.2" fill="#f2f2f2"/>
<rect x="552.7" y="960.8" width="229.1" height="309.2" fill="#9de0c0"/>
<line x1="440.6" y1="1012.33" x2="781.8" y2="1012.33" stroke="#000" stroke-width="1.6"/>
<line x1="440.6" y1="1063.87" x2="781.8" y2="1063.87" stroke="#000" stroke-width="1.6"/>
<line x1="440.6" y1="1115.40" x2="781.8" y2="1115.40" stroke="#000" stroke-width="1.6"/>
<line x1="440.6" y1="1166.93" x2="781.8" y2="1166.93" stroke="#000" stroke-width="1.6"/>
<line x1="440.6" y1="1218.47" x2="781.8" y2="1218.47" stroke="#000" stroke-width="1.6"/>
<line x1="440.6" y1="960.8" x2="781.8" y2="960.8" stroke="#000" stroke-width="1.6"/>
<line x1="552.7" y1="909.4" x2="781.8" y2="909.4" stroke="#000" stroke-width="1.4"/>
<line x1="552.7" y1="848.1" x2="552.7" y2="1270.0" stroke="#000" stroke-width="1.6"/>
<line x1="616.5" y1="909.4" x2="616.5" y2="1270.0" stroke="#000" stroke-width="1.4"/>
<line x1="682.6" y1="848.1" x2="682.6" y2="1270.0" stroke="#000" stroke-width="1.4"/>
<line x1="682.6" y1="909.4" x2="781.8" y2="960.8" stroke="#000" stroke-width="1.4"/>
<rect x="440.6" y="848.1" width="341.2" height="421.9" fill="none" stroke="#000" stroke-width="1.8"/>
<text x="476.02" y="913.90" font-size="23.5" text-anchor="start" font-weight="bold" font-family='"Liberation Sans", sans-serif' fill="#000"  textLength="43.45" lengthAdjust="spacingAndGlyphs">Day</text>
<text x="592.56" y="886.70" font-size="20.8" text-anchor="start" font-weight="bold" font-family='"Liberation Sans", sans-serif' fill="#000"  textLength="50.48" lengthAdjust="spacingAndGlyphs">Input</text>
<text x="698.66" y="886.70" font-size="20.8" text-anchor="start" font-weight="bold" font-family='"Liberation Sans", sans-serif' fill="#000"  textLength="67.28" lengthAdjust="spacingAndGlyphs">Output</text>
<text x="566.45" y="941.60" font-size="15" text-anchor="start" font-weight="bold" font-family='"Liberation Sans", sans-serif' fill="#000"  textLength="36.90" lengthAdjust="spacingAndGlyphs">Img I</text>
<text x="629.55" y="941.60" font-size="15" text-anchor="start" font-weight="bold" font-family='"Liberation Sans", sans-serif' fill="#000"  textLength="40.40" lengthAdjust="spacingAndGlyphs">Img II</text>
<text x="496.65" y="994.47" font-size="19" text-anchor="middle" font-weight="bold" font-family='"Liberation Sans", sans-serif' fill="#000" >1</text>
<text x="584.60" y="994.47" font-size="19" text-anchor="middle" font-weight="bold" font-family='"Liberation Sans", sans-serif' fill="#000" >1</text>
<text x="649.55" y="994.47" font-size="19" text-anchor="middle" font-weight="bold" font-family='"Liberation Sans", sans-serif' fill="#000" >1</text>
<text x="732.20" y="994.47" font-size="19" text-anchor="middle" font-weight="bold" font-family='"Liberation Sans", sans-serif' fill="#000" >1</text>
<text x="496.65" y="1046.00" font-size="19" text-anchor="middle" font-weight="bold" font-family='"Liberation Sans", sans-serif' fill="#000" >2</text>
<text x="584.60" y="1046.00" font-size="19" text-anchor="middle" font-weight="bold" font-family='"Liberation Sans", sans-serif' fill="#000" >1</text>
<text x="649.55" y="1046.00" font-size="19" text-anchor="middle" font-weight="bold" font-family='"Liberation Sans", sans-serif' fill="#000" >1</text>
<text x="732.20" y="1046.00" font-size="19" text-anchor="middle" font-weight="bold" font-family='"Liberation Sans", sans-serif' fill="#000" >1</text>
<text x="496.65" y="1097.53" font-size="19" text-anchor="middle" font-weight="bold" font-family='"Liberation Sans", sans-serif' fill="#000" >3</text>
<text x="584.60" y="1097.53" font-size="19" text-anchor="middle" font-weight="bold" font-family='"Liberation Sans", sans-serif' fill="#000" >1</text>
<text x="649.55" y="1097.53" font-size="19" text-anchor="middle" font-weight="bold" font-family='"Liberation Sans", sans-serif' fill="#000" >1</text>
<text x="732.20" y="1097.53" font-size="19" text-anchor="middle" font-weight="bold" font-family='"Liberation Sans", sans-serif' fill="#000" >1</text>
<text x="496.65" y="1149.07" font-size="19" text-anchor="middle" font-weight="bold" font-family='"Liberation Sans", sans-serif' fill="#000" >4</text>
<text x="584.60" y="1149.07" font-size="19" text-anchor="middle" font-weight="bold" font-family='"Liberation Sans", sans-serif' fill="#000" >1</text>
<text x="649.55" y="1149.07" font-size="19" text-anchor="middle" font-weight="bold" font-family='"Liberation Sans", sans-serif' fill="#000" >1</text>
<text x="732.20" y="1149.07" font-size="19" text-anchor="middle" font-weight="bold" font-family='"Liberation Sans", sans-serif' fill="#000" >1</text>
<text x="496.65" y="1200.60" font-size="19" text-anchor="middle" font-weight="bold" font-family='"Liberation Sans", sans-serif' fill="#000" >5</text>
<text x="584.60" y="1200.60" font-size="19" text-anchor="middle" font-weight="bold" font-family='"Liberation Sans", sans-serif' fill="#000" >1</text>
<text x="649.55" y="1200.60" font-size="19" text-anchor="middle" font-weight="bold" font-family='"Liberation Sans", sans-serif' fill="#000" >1</text>
<text x="732.20" y="1200.60" font-size="19" text-anchor="middle" font-weight="bold" font-family='"Liberation Sans", sans-serif' fill="#000" >1</text>
<text x="496.65" y="1252.13" font-size="19" text-anchor="middle" font-weight="bold" font-family='"Liberation Sans", sans-serif' fill="#000" >6</text>
<text x="584.60" y="1252.13" font-size="19" text-anchor="middle" font-weight="bold" font-family='"Liberation Sans", sans-serif' fill="#000" >1</text>
<text x="649.55" y="1252.13" font-size="19" text-anchor="middle" font-weight="bold" font-family='"Liberation Sans", sans-serif' fill="#000" >1</text>
<text x="732.20" y="1252.13" font-size="19" text-anchor="middle" font-weight="bold" font-family='"Liberation Sans", sans-serif' fill="#000" >1</text>
<text x="401.30" y="857.00" font-size="34" text-anchor="start" font-weight="bold" font-family='"Liberation Sans", sans-serif' fill="#000"  textLength="20.40" lengthAdjust="spacingAndGlyphs">e</text>
<path d="M998.30,953.50 A79.3,79.3 0 1 1 925.04,1002.45 L951.18,1013.28 A51,51 0 1 0 998.30,981.80 Z" fill="#b973fc" stroke="#fff" stroke-width="0.9"/>
<path d="M925.04,1002.45 A79.3,79.3 0 0 1 998.30,953.50 L998.30,981.80 A51,51 0 0 0 951.18,1013.28 Z" fill="#e1e1e1" stroke="#fff" stroke-width="0.9"/>
<path d="M998.30,924.10 A108.7,108.7 0 1 1 956.70,1133.23 L967.95,1106.06 A79.3,79.3 0 1 0 998.30,953.50 Z" fill="#fdfd7f" stroke="#fff" stroke-width="0.9"/>
<path d="M956.70,1133.23 A108.7,108.7 0 0 1 998.30,924.10 L998.30,953.50 A79.3,79.3 0 0 0 967.95,1106.06 Z" fill="#e1e1e1" stroke="#fff" stroke-width="0.9"/>
<path d="M998.30,895.10 A137.7,137.7 0 1 1 860.60,1032.80 L889.60,1032.80 A108.7,108.7 0 1 0 998.30,924.10 Z" fill="#8c9dfd" stroke="#fff" stroke-width="0.9"/>
<path d="M860.60,1032.80 A137.7,137.7 0 0 1 998.30,895.10 L998.30,924.10 A108.7,108.7 0 0 0 889.60,1032.80 Z" fill="#e1e1e1" stroke="#fff" stroke-width="0.9"/>
<path d="M998.30,865.20 A167.6,167.6 0 1 1 843.46,1096.94 L871.08,1085.50 A137.7,137.7 0 1 0 998.30,895.10 Z" fill="#feb2da" stroke="#fff" stroke-width="0.9"/>
<path d="M843.46,1096.94 A167.6,167.6 0 0 1 998.30,865.20 L998.30,895.10 A137.7,137.7 0 0 0 871.08,1085.50 Z" fill="#e1e1e1" stroke="#fff" stroke-width="0.9"/>
<text x="913.68" y="856.60" font-size="22.3" text-anchor="start" font-weight="bold" font-family='"Liberation Sans", sans-serif' fill="#000"  textLength="180.53" lengthAdjust="spacingAndGlyphs">Positive rate (%)</text>
<text x="826.35" y="856.60" font-size="33" text-anchor="start" font-weight="bold" font-family='"Liberation Sans", sans-serif' fill="#000"  textLength="14.70" lengthAdjust="spacingAndGlyphs">f</text>
<text x="922.22" y="1031.50" font-size="19.7" text-anchor="start" font-weight="bold" font-family='"Liberation Serif", serif' fill="#000"  textLength="50.97" lengthAdjust="spacingAndGlyphs">68.30</text>
<text x="855.12" y="1058.60" font-size="19.7" text-anchor="start" font-weight="bold" font-family='"Liberation Serif", serif' fill="#000"  textLength="46.17" lengthAdjust="spacingAndGlyphs">81.25</text>
<text x="845.31" y="1109.40" font-size="19.7" text-anchor="start" font-weight="bold" font-family='"Liberation Serif", serif' fill="#000"  textLength="47.37" lengthAdjust="spacingAndGlyphs">75.00</text>
<text x="968.91" y="1133.60" font-size="19.7" text-anchor="start" font-weight="bold" font-family='"Liberation Serif", serif' fill="#000"  textLength="51.07" lengthAdjust="spacingAndGlyphs">56.30</text>
<rect x="814" y="1214.4" width="20" height="20" fill="#fdfd7f"/>
<rect x="1040.2" y="1214.4" width="20" height="20" fill="#8c9dfd"/>
<rect x="814" y="1264.6" width="20" height="20" fill="#feb2da"/>
<rect x="1040.2" y="1263.2" width="20" height="20" fill="#b973fc"/>
<text x="845.19" y="1234.30" font-size="20.3" text-anchor="start" font-weight="normal" font-family='"Liberation Sans", sans-serif' fill="#000"  textLength="172.03" lengthAdjust="spacingAndGlyphs">Naked eyes (Img I)</text>
<text x="1073.18" y="1234.30" font-size="20.3" text-anchor="start" font-weight="normal" font-family='"Liberation Sans", sans-serif' fill="#000"  textLength="177.53" lengthAdjust="spacingAndGlyphs">Naked eyes (Img II)</text>
<text x="845.19" y="1283.00" font-size="20.3" text-anchor="start" font-weight="normal" font-family='"Liberation Sans", sans-serif' fill="#000"  textLength="93.63" lengthAdjust="spacingAndGlyphs">Logic gate</text>
<text x="1067.98" y="1282.40" font-size="20.3" text-anchor="start" font-weight="normal" font-family='"Liberation Sans", sans-serif' fill="#000"  textLength="65.63" lengthAdjust="spacingAndGlyphs">Clinical</text>
</svg></body></html>
